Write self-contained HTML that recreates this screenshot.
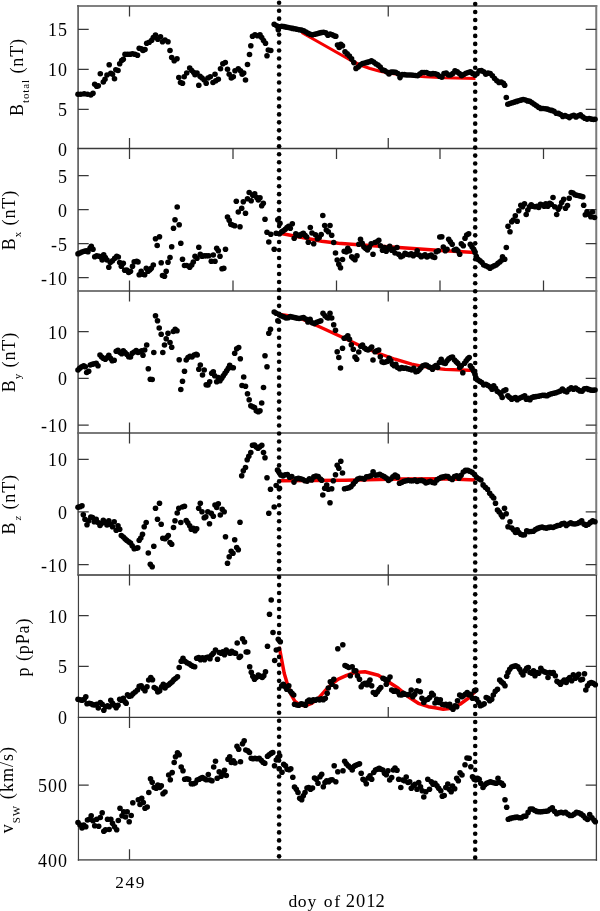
<!DOCTYPE html>
<html><head><meta charset="utf-8"><title>plot</title><style>html,body{margin:0;padding:0;background:#fff}svg text{font-family:"Liberation Serif",serif}</style></head><body>
<svg width="600" height="911" viewBox="0 0 600 911" style="display:block">
<rect width="600" height="911" fill="#fff"/>
<path d="M77.1 6H597.25" fill="none" stroke="#808080" stroke-width="2"/>
<path d="M77.3 291H597.25M77.3 433H597.25" fill="none" stroke="#7a7a7a" stroke-width="2"/>
<path d="M77.3 575H597.1" fill="none" stroke="#666" stroke-width="1.8"/>
<path d="M77.8 859.8H597.1" fill="none" stroke="#6e6e6e" stroke-width="1.8"/>
<path d="M78.1 5V575" fill="none" stroke="#606060" stroke-width="1.7"/>
<path d="M78.45 575V860.7" fill="none" stroke="#404040" stroke-width="1.2"/>
<path d="M596.25 5V575" fill="none" stroke="#7a7a7a" stroke-width="2"/>
<path d="M596.4 575V860.7" fill="none" stroke="#444" stroke-width="1.3"/>
<path d="M77.3 148.5H597.25M77.8 717.4H597" fill="none" stroke="#3a3a3a" stroke-width="1.3"/>
<path d="M78.1 29.4h10.6M596.3 29.4h-10.6M78.1 69.4h10.6M596.3 69.4h-10.6M78.1 109.3h10.6M596.3 109.3h-10.6M78.1 175.5h10.6M596.3 175.5h-10.6M78.1 209.5h10.6M596.3 209.5h-10.6M78.1 243.5h10.6M596.3 243.5h-10.6M78.1 277.5h10.6M596.3 277.5h-10.6M78.1 331.7h10.6M596.3 331.7h-10.6M78.1 378.3h10.6M596.3 378.3h-10.6M78.1 425h10.6M596.3 425h-10.6M78.1 459.3h10.6M596.3 459.3h-10.6M78.1 511.9h10.6M596.3 511.9h-10.6M78.1 564.6h10.6M596.3 564.6h-10.6M78.1 615.5h10.6M596.3 615.5h-10.6M78.1 666.25h10.6M596.3 666.25h-10.6M78.1 785h10.6M596.3 785h-10.6M129.5 6v10.5M388.25 6v10.5M129.5 148.5v-10.5M388.25 148.5v-10.5M129.5 148.5v10.5M233 148.5v10.5M336.5 148.5v10.5M440 148.5v10.5M543.5 148.5v10.5M129.5 291v-10.5M233 291v-10.5M336.5 291v-10.5M440 291v-10.5M543.5 291v-10.5M129.5 291v10.5M388.25 291v10.5M129.5 433v-10.5M388.25 433v-10.5M129.5 433v10.5M388.25 433v10.5M129.5 575v-10.5M388.25 575v-10.5M129.5 575v10.5M388.25 575v10.5M129.5 717.4v-10.5M388.25 717.4v-10.5M129.5 717.4v10.5M129.5 859.8v-10.5" fill="none" stroke="#383838" stroke-width="1.25"/>
<g font-family="'Liberation Serif',serif" font-size="18" fill="#000" text-anchor="end" letter-spacing="1">
<text x="67.9" y="36.2">15</text>
<text x="67.9" y="76.2">10</text>
<text x="67.9" y="116.2">5</text>
<text x="67.9" y="155.5">0</text>
<text x="67.9" y="182.5">5</text>
<text x="67.9" y="216.5">0</text>
<text x="67.9" y="250.5">-5</text>
<text x="67.9" y="284.5">-10</text>
<text x="67.9" y="338.7">10</text>
<text x="67.9" y="385.3">0</text>
<text x="67.9" y="432.0">-10</text>
<text x="67.9" y="466.3">10</text>
<text x="67.9" y="518.9">0</text>
<text x="67.9" y="571.5">-10</text>
<text x="67.9" y="622.5">10</text>
<text x="67.9" y="673.2">5</text>
<text x="67.9" y="724.0">0</text>
<text x="67.9" y="792.0">500</text>
<text x="67.9" y="866.5">400</text>
</g>
<g font-family="'Liberation Serif',serif" font-size="18" fill="#000" letter-spacing="0.9">
<text x="130.6" y="888" text-anchor="middle" font-size="17.3" letter-spacing="1.6">249</text>
<text x="288.5 297.8 307.5 316 323.8 334.2 341 345.7 356 366.3 375.6" y="906.7" font-size="17.6" letter-spacing="0">doy of <tspan font-size="18.5" dy="0.4">2012</tspan></text>
<text transform="translate(23 77) rotate(-90)" text-anchor="middle" letter-spacing="0.9">B<tspan font-size="11" dy="5.5">total</tspan><tspan dy="-5.5"> (nT)</tspan></text>
<text transform="translate(15.3 220) rotate(-90)" text-anchor="middle" letter-spacing="0.9">B<tspan font-size="11" dy="5.5">x</tspan><tspan dy="-5.5"> (nT)</tspan></text>
<text transform="translate(15.3 362) rotate(-90)" text-anchor="middle" letter-spacing="0.9">B<tspan font-size="11" dy="5.5">y</tspan><tspan dy="-5.5"> (nT)</tspan></text>
<text transform="translate(15.3 504.3) rotate(-90)" text-anchor="middle" letter-spacing="0.9">B<tspan font-size="11" dy="5.5" dx="1.5" font-style="italic">z</tspan><tspan dy="-5.5"> (nT)</tspan></text>
<text transform="translate(29.4 647) rotate(-90)" text-anchor="middle" letter-spacing="0.9">p (pPa)</text>
<text transform="translate(12.6 789.6) rotate(-90)" text-anchor="middle" letter-spacing="1.05">v<tspan font-size="11" dy="7">SW</tspan><tspan dy="-7"> (km/s)</tspan></text>
</g>
<path d="M301.7 32.5 L352 61 L360 65 L370 68.5 L380 71.3 L390 73.3 L405 75.3 L425 76.8 L445 77.8 L475.5 78.5" fill="none" stroke="#f40000" stroke-width="3.1" stroke-linejoin="round" stroke-linecap="butt"/>
<path d="M280 233.3 L305 238 L321.7 241.2 L338.3 243.3 L355 244.5 L395 247.2 L445 250.8 L475 252.5" fill="none" stroke="#f40000" stroke-width="3.5" stroke-linejoin="round" stroke-linecap="butt"/>
<path d="M280 314.5 L290 316 L303 319.5 L320 327 L345 338.5 L361.7 346.5 L378.3 353.3 L395 359.2 L411.7 364.2 L428.3 367.5 L445 369.3 L475.5 370.5" fill="none" stroke="#f40000" stroke-width="3.3" stroke-linejoin="round" stroke-linecap="butt"/>
<path d="M280 480.8 L345 480.2 L400 479 L445 478.7 L475.5 480" fill="none" stroke="#f40000" stroke-width="3.5" stroke-linejoin="round" stroke-linecap="butt"/>
<path d="M279.2 646.7 L281.7 660 L284.2 673.3 L286.7 681.7 L290.8 694 L295 701.5 L300 705 L305 705.8 L311.7 703.3 L318.3 698.3 L325 690.8 L331.7 684.2 L338.3 679.2 L346.7 675.3 L355 672.5 L365 671.7 L378.3 675.3 L388.3 681.7 L398.3 688.3 L408.3 696.7 L418.3 703.3 L428.3 706.7 L435 707.7 L443.3 709.2 L451.7 708.3 L460 704.2 L468.3 698.3 L476.7 690" fill="none" stroke="#f40000" stroke-width="3.5" stroke-linejoin="round" stroke-linecap="butt"/>
<g fill="#000">
<circle cx="78.0" cy="94.2" r="2.8"/>
<circle cx="80.8" cy="94.2" r="2.8"/>
<circle cx="84.2" cy="93.8" r="2.8"/>
<circle cx="87.5" cy="94.2" r="2.8"/>
<circle cx="90.8" cy="95.0" r="2.8"/>
<circle cx="93.0" cy="93.3" r="2.8"/>
<circle cx="94.7" cy="84.2" r="2.8"/>
<circle cx="96.7" cy="86.3" r="2.8"/>
<circle cx="98.3" cy="85.8" r="2.8"/>
<circle cx="100.3" cy="73.7" r="2.8"/>
<circle cx="103.3" cy="82.0" r="2.8"/>
<circle cx="105.0" cy="79.2" r="2.8"/>
<circle cx="107.0" cy="75.0" r="2.8"/>
<circle cx="109.2" cy="64.7" r="2.8"/>
<circle cx="110.8" cy="73.3" r="2.8"/>
<circle cx="112.5" cy="74.2" r="2.8"/>
<circle cx="114.5" cy="78.7" r="2.8"/>
<circle cx="115.8" cy="69.7" r="2.8"/>
<circle cx="118.0" cy="70.5" r="2.8"/>
<circle cx="119.7" cy="63.8" r="2.8"/>
<circle cx="121.7" cy="60.5" r="2.8"/>
<circle cx="123.3" cy="59.2" r="2.8"/>
<circle cx="125.0" cy="54.2" r="2.8"/>
<circle cx="127.5" cy="54.2" r="2.8"/>
<circle cx="130.0" cy="54.2" r="2.8"/>
<circle cx="132.5" cy="53.8" r="2.8"/>
<circle cx="135.0" cy="54.2" r="2.8"/>
<circle cx="137.5" cy="55.3" r="2.8"/>
<circle cx="139.2" cy="48.3" r="2.8"/>
<circle cx="141.3" cy="48.7" r="2.8"/>
<circle cx="143.0" cy="50.5" r="2.8"/>
<circle cx="145.0" cy="49.5" r="2.8"/>
<circle cx="146.7" cy="43.3" r="2.8"/>
<circle cx="149.2" cy="42.2" r="2.8"/>
<circle cx="151.7" cy="40.3" r="2.8"/>
<circle cx="153.3" cy="37.5" r="2.8"/>
<circle cx="155.5" cy="35.0" r="2.8"/>
<circle cx="157.8" cy="39.2" r="2.8"/>
<circle cx="160.5" cy="36.7" r="2.8"/>
<circle cx="162.5" cy="41.7" r="2.8"/>
<circle cx="165.0" cy="40.0" r="2.8"/>
<circle cx="168.0" cy="41.7" r="2.8"/>
<circle cx="170.0" cy="50.5" r="2.8"/>
<circle cx="171.7" cy="57.5" r="2.8"/>
<circle cx="174.2" cy="60.8" r="2.8"/>
<circle cx="177.0" cy="58.8" r="2.8"/>
<circle cx="178.8" cy="77.5" r="2.8"/>
<circle cx="180.5" cy="82.5" r="2.8"/>
<circle cx="182.5" cy="83.3" r="2.8"/>
<circle cx="184.2" cy="76.7" r="2.8"/>
<circle cx="186.7" cy="73.0" r="2.8"/>
<circle cx="189.7" cy="68.0" r="2.8"/>
<circle cx="191.7" cy="70.5" r="2.8"/>
<circle cx="193.7" cy="72.5" r="2.8"/>
<circle cx="195.0" cy="74.7" r="2.8"/>
<circle cx="197.0" cy="73.0" r="2.8"/>
<circle cx="198.8" cy="85.3" r="2.8"/>
<circle cx="200.0" cy="76.3" r="2.8"/>
<circle cx="202.0" cy="78.0" r="2.8"/>
<circle cx="204.2" cy="80.0" r="2.8"/>
<circle cx="206.2" cy="83.3" r="2.8"/>
<circle cx="208.0" cy="78.0" r="2.8"/>
<circle cx="210.3" cy="76.7" r="2.8"/>
<circle cx="213.0" cy="82.5" r="2.8"/>
<circle cx="215.0" cy="74.2" r="2.8"/>
<circle cx="215.8" cy="80.8" r="2.8"/>
<circle cx="218.3" cy="79.2" r="2.8"/>
<circle cx="220.5" cy="68.7" r="2.8"/>
<circle cx="222.8" cy="63.8" r="2.8"/>
<circle cx="225.3" cy="62.5" r="2.8"/>
<circle cx="227.5" cy="69.2" r="2.8"/>
<circle cx="229.2" cy="74.2" r="2.8"/>
<circle cx="231.3" cy="78.0" r="2.8"/>
<circle cx="233.3" cy="76.7" r="2.8"/>
<circle cx="235.0" cy="70.8" r="2.8"/>
<circle cx="238.3" cy="68.7" r="2.8"/>
<circle cx="240.5" cy="70.8" r="2.8"/>
<circle cx="242.2" cy="74.2" r="2.8"/>
<circle cx="243.7" cy="73.0" r="2.8"/>
<circle cx="245.5" cy="80.0" r="2.8"/>
<circle cx="247.5" cy="64.5" r="2.8"/>
<circle cx="249.5" cy="54.5" r="2.8"/>
<circle cx="250.8" cy="45.8" r="2.8"/>
<circle cx="252.5" cy="36.2" r="2.8"/>
<circle cx="255.0" cy="34.7" r="2.8"/>
<circle cx="257.5" cy="35.8" r="2.8"/>
<circle cx="260.0" cy="34.7" r="2.8"/>
<circle cx="261.7" cy="37.5" r="2.8"/>
<circle cx="263.5" cy="40.5" r="2.8"/>
<circle cx="265.5" cy="43.3" r="2.8"/>
<circle cx="267.0" cy="55.8" r="2.8"/>
<circle cx="268.3" cy="50.0" r="2.8"/>
<circle cx="270.8" cy="50.5" r="2.8"/>
<circle cx="274.2" cy="24.2" r="2.8"/>
<circle cx="276.7" cy="25.8" r="2.8"/>
<circle cx="278.3" cy="29.7" r="2.8"/>
<circle cx="279.5" cy="26.7" r="2.8"/>
<circle cx="337.5" cy="45.0" r="2.8"/>
<circle cx="339.2" cy="47.5" r="2.8"/>
<circle cx="340.8" cy="44.2" r="2.8"/>
<circle cx="342.5" cy="45.8" r="2.8"/>
<circle cx="506.3" cy="97.5" r="2.8"/>
<circle cx="281.7" cy="26.2" r="2.8"/>
<circle cx="283.9" cy="26.6" r="2.8"/>
<circle cx="286.1" cy="27.1" r="2.8"/>
<circle cx="288.3" cy="27.5" r="2.8"/>
<circle cx="290.5" cy="28.0" r="2.8"/>
<circle cx="292.7" cy="28.4" r="2.8"/>
<circle cx="294.9" cy="28.8" r="2.8"/>
<circle cx="297.1" cy="29.3" r="2.8"/>
<circle cx="299.3" cy="29.7" r="2.8"/>
<circle cx="301.5" cy="30.1" r="2.8"/>
<circle cx="303.7" cy="30.7" r="2.8"/>
<circle cx="305.9" cy="32.0" r="2.8"/>
<circle cx="308.1" cy="33.2" r="2.8"/>
<circle cx="310.3" cy="34.3" r="2.8"/>
<circle cx="312.5" cy="34.8" r="2.8"/>
<circle cx="314.7" cy="34.2" r="2.8"/>
<circle cx="316.9" cy="33.7" r="2.8"/>
<circle cx="319.1" cy="33.1" r="2.8"/>
<circle cx="321.3" cy="32.6" r="2.8"/>
<circle cx="323.5" cy="32.2" r="2.8"/>
<circle cx="325.7" cy="32.8" r="2.8"/>
<circle cx="327.9" cy="35.3" r="2.8"/>
<circle cx="330.1" cy="34.0" r="2.8"/>
<circle cx="332.3" cy="34.8" r="2.8"/>
<circle cx="334.5" cy="36.0" r="2.8"/>
<circle cx="335.8" cy="36.3" r="2.8"/>
<circle cx="345.0" cy="51.7" r="2.8"/>
<circle cx="347.2" cy="53.9" r="2.8"/>
<circle cx="349.4" cy="56.1" r="2.8"/>
<circle cx="351.6" cy="58.9" r="2.8"/>
<circle cx="353.8" cy="62.6" r="2.8"/>
<circle cx="356.0" cy="68.4" r="2.8"/>
<circle cx="358.2" cy="67.0" r="2.8"/>
<circle cx="360.4" cy="64.8" r="2.8"/>
<circle cx="362.6" cy="63.5" r="2.8"/>
<circle cx="364.8" cy="63.0" r="2.8"/>
<circle cx="367.0" cy="62.4" r="2.8"/>
<circle cx="369.2" cy="61.7" r="2.8"/>
<circle cx="371.4" cy="60.9" r="2.8"/>
<circle cx="373.6" cy="62.1" r="2.8"/>
<circle cx="375.8" cy="63.7" r="2.8"/>
<circle cx="378.0" cy="65.1" r="2.8"/>
<circle cx="380.2" cy="67.1" r="2.8"/>
<circle cx="382.4" cy="69.9" r="2.8"/>
<circle cx="384.6" cy="70.5" r="2.8"/>
<circle cx="386.8" cy="72.0" r="2.8"/>
<circle cx="389.0" cy="74.0" r="2.8"/>
<circle cx="391.2" cy="72.1" r="2.8"/>
<circle cx="393.4" cy="72.1" r="2.8"/>
<circle cx="395.6" cy="72.3" r="2.8"/>
<circle cx="397.8" cy="73.6" r="2.8"/>
<circle cx="400.0" cy="77.6" r="2.8"/>
<circle cx="402.2" cy="74.6" r="2.8"/>
<circle cx="404.4" cy="74.6" r="2.8"/>
<circle cx="406.6" cy="75.0" r="2.8"/>
<circle cx="408.8" cy="75.0" r="2.8"/>
<circle cx="411.0" cy="75.0" r="2.8"/>
<circle cx="413.2" cy="75.2" r="2.8"/>
<circle cx="415.4" cy="75.5" r="2.8"/>
<circle cx="417.6" cy="75.7" r="2.8"/>
<circle cx="419.8" cy="74.0" r="2.8"/>
<circle cx="422.0" cy="72.5" r="2.8"/>
<circle cx="424.2" cy="72.5" r="2.8"/>
<circle cx="426.4" cy="72.5" r="2.8"/>
<circle cx="428.6" cy="73.5" r="2.8"/>
<circle cx="430.8" cy="74.0" r="2.8"/>
<circle cx="433.0" cy="73.6" r="2.8"/>
<circle cx="435.2" cy="73.7" r="2.8"/>
<circle cx="437.4" cy="74.6" r="2.8"/>
<circle cx="439.6" cy="76.3" r="2.8"/>
<circle cx="441.8" cy="77.2" r="2.8"/>
<circle cx="444.0" cy="73.6" r="2.8"/>
<circle cx="446.2" cy="73.1" r="2.8"/>
<circle cx="448.4" cy="75.0" r="2.8"/>
<circle cx="450.6" cy="75.0" r="2.8"/>
<circle cx="452.8" cy="73.6" r="2.8"/>
<circle cx="455.0" cy="70.8" r="2.8"/>
<circle cx="457.2" cy="71.9" r="2.8"/>
<circle cx="459.4" cy="73.6" r="2.8"/>
<circle cx="461.6" cy="75.7" r="2.8"/>
<circle cx="463.8" cy="74.5" r="2.8"/>
<circle cx="466.0" cy="73.2" r="2.8"/>
<circle cx="468.2" cy="72.5" r="2.8"/>
<circle cx="470.4" cy="71.8" r="2.8"/>
<circle cx="472.6" cy="73.4" r="2.8"/>
<circle cx="474.8" cy="74.8" r="2.8"/>
<circle cx="477.0" cy="73.7" r="2.8"/>
<circle cx="479.2" cy="70.8" r="2.8"/>
<circle cx="481.4" cy="70.6" r="2.8"/>
<circle cx="483.6" cy="71.7" r="2.8"/>
<circle cx="485.8" cy="74.2" r="2.8"/>
<circle cx="488.0" cy="73.1" r="2.8"/>
<circle cx="490.2" cy="73.5" r="2.8"/>
<circle cx="492.4" cy="75.7" r="2.8"/>
<circle cx="494.6" cy="78.5" r="2.8"/>
<circle cx="496.8" cy="80.7" r="2.8"/>
<circle cx="499.0" cy="82.4" r="2.8"/>
<circle cx="501.2" cy="82.0" r="2.8"/>
<circle cx="503.4" cy="83.2" r="2.8"/>
<circle cx="504.7" cy="85.3" r="2.8"/>
<circle cx="507.8" cy="104.2" r="2.8"/>
<circle cx="510.0" cy="103.5" r="2.8"/>
<circle cx="512.2" cy="102.8" r="2.8"/>
<circle cx="514.4" cy="102.1" r="2.8"/>
<circle cx="516.6" cy="101.4" r="2.8"/>
<circle cx="518.8" cy="100.7" r="2.8"/>
<circle cx="521.0" cy="100.1" r="2.8"/>
<circle cx="523.2" cy="99.5" r="2.8"/>
<circle cx="525.4" cy="100.0" r="2.8"/>
<circle cx="527.6" cy="100.9" r="2.8"/>
<circle cx="529.8" cy="101.3" r="2.8"/>
<circle cx="532.0" cy="102.7" r="2.8"/>
<circle cx="534.2" cy="104.2" r="2.8"/>
<circle cx="536.4" cy="105.7" r="2.8"/>
<circle cx="538.6" cy="107.3" r="2.8"/>
<circle cx="540.8" cy="108.4" r="2.8"/>
<circle cx="543.0" cy="108.5" r="2.8"/>
<circle cx="545.2" cy="108.7" r="2.8"/>
<circle cx="547.4" cy="109.1" r="2.8"/>
<circle cx="549.6" cy="110.0" r="2.8"/>
<circle cx="551.8" cy="110.4" r="2.8"/>
<circle cx="554.0" cy="111.2" r="2.8"/>
<circle cx="556.2" cy="113.3" r="2.8"/>
<circle cx="558.4" cy="113.4" r="2.8"/>
<circle cx="560.6" cy="114.5" r="2.8"/>
<circle cx="562.8" cy="116.4" r="2.8"/>
<circle cx="565.0" cy="115.5" r="2.8"/>
<circle cx="567.2" cy="116.5" r="2.8"/>
<circle cx="569.4" cy="117.6" r="2.8"/>
<circle cx="571.6" cy="116.0" r="2.8"/>
<circle cx="573.8" cy="115.4" r="2.8"/>
<circle cx="576.0" cy="116.9" r="2.8"/>
<circle cx="578.2" cy="115.8" r="2.8"/>
<circle cx="580.4" cy="114.8" r="2.8"/>
<circle cx="582.6" cy="116.8" r="2.8"/>
<circle cx="584.8" cy="118.3" r="2.8"/>
<circle cx="587.0" cy="119.1" r="2.8"/>
<circle cx="589.2" cy="118.5" r="2.8"/>
<circle cx="591.4" cy="119.1" r="2.8"/>
<circle cx="593.6" cy="119.5" r="2.8"/>
<circle cx="595.0" cy="119.2" r="2.8"/>
<circle cx="78.0" cy="253.8" r="2.8"/>
<circle cx="80.0" cy="253.0" r="2.8"/>
<circle cx="82.0" cy="252.0" r="2.8"/>
<circle cx="84.2" cy="251.2" r="2.8"/>
<circle cx="86.3" cy="250.8" r="2.8"/>
<circle cx="88.0" cy="251.7" r="2.8"/>
<circle cx="90.0" cy="248.3" r="2.8"/>
<circle cx="91.3" cy="246.3" r="2.8"/>
<circle cx="93.0" cy="249.2" r="2.8"/>
<circle cx="94.7" cy="256.7" r="2.8"/>
<circle cx="96.7" cy="255.8" r="2.8"/>
<circle cx="99.2" cy="256.2" r="2.8"/>
<circle cx="101.3" cy="257.5" r="2.8"/>
<circle cx="102.2" cy="260.0" r="2.8"/>
<circle cx="103.7" cy="254.7" r="2.8"/>
<circle cx="105.3" cy="257.5" r="2.8"/>
<circle cx="107.0" cy="260.0" r="2.8"/>
<circle cx="108.8" cy="267.2" r="2.8"/>
<circle cx="110.3" cy="262.5" r="2.8"/>
<circle cx="112.5" cy="260.8" r="2.8"/>
<circle cx="114.7" cy="258.3" r="2.8"/>
<circle cx="116.7" cy="256.3" r="2.8"/>
<circle cx="118.3" cy="257.0" r="2.8"/>
<circle cx="119.7" cy="262.5" r="2.8"/>
<circle cx="121.3" cy="266.3" r="2.8"/>
<circle cx="123.3" cy="263.3" r="2.8"/>
<circle cx="124.7" cy="270.3" r="2.8"/>
<circle cx="126.7" cy="270.0" r="2.8"/>
<circle cx="128.7" cy="272.5" r="2.8"/>
<circle cx="130.5" cy="271.3" r="2.8"/>
<circle cx="132.5" cy="266.3" r="2.8"/>
<circle cx="134.2" cy="261.7" r="2.8"/>
<circle cx="136.7" cy="261.3" r="2.8"/>
<circle cx="138.0" cy="262.0" r="2.8"/>
<circle cx="139.2" cy="274.7" r="2.8"/>
<circle cx="141.2" cy="271.3" r="2.8"/>
<circle cx="142.8" cy="274.2" r="2.8"/>
<circle cx="144.7" cy="274.7" r="2.8"/>
<circle cx="146.3" cy="268.3" r="2.8"/>
<circle cx="148.0" cy="271.3" r="2.8"/>
<circle cx="149.7" cy="270.0" r="2.8"/>
<circle cx="151.3" cy="268.3" r="2.8"/>
<circle cx="153.3" cy="265.0" r="2.8"/>
<circle cx="155.5" cy="238.8" r="2.8"/>
<circle cx="157.2" cy="245.5" r="2.8"/>
<circle cx="159.5" cy="236.7" r="2.8"/>
<circle cx="161.2" cy="262.8" r="2.8"/>
<circle cx="162.5" cy="275.5" r="2.8"/>
<circle cx="164.5" cy="276.3" r="2.8"/>
<circle cx="166.2" cy="271.2" r="2.8"/>
<circle cx="168.0" cy="262.2" r="2.8"/>
<circle cx="170.0" cy="257.5" r="2.8"/>
<circle cx="171.7" cy="246.7" r="2.8"/>
<circle cx="173.5" cy="228.3" r="2.8"/>
<circle cx="175.0" cy="219.7" r="2.8"/>
<circle cx="177.2" cy="207.0" r="2.8"/>
<circle cx="179.2" cy="224.7" r="2.8"/>
<circle cx="180.8" cy="243.3" r="2.8"/>
<circle cx="182.5" cy="259.2" r="2.8"/>
<circle cx="184.5" cy="265.5" r="2.8"/>
<circle cx="186.7" cy="265.5" r="2.8"/>
<circle cx="189.7" cy="267.2" r="2.8"/>
<circle cx="191.7" cy="265.0" r="2.8"/>
<circle cx="193.3" cy="262.0" r="2.8"/>
<circle cx="195.0" cy="256.2" r="2.8"/>
<circle cx="197.0" cy="258.3" r="2.8"/>
<circle cx="198.8" cy="247.2" r="2.8"/>
<circle cx="200.3" cy="254.2" r="2.8"/>
<circle cx="202.0" cy="256.3" r="2.8"/>
<circle cx="204.2" cy="255.8" r="2.8"/>
<circle cx="206.3" cy="255.8" r="2.8"/>
<circle cx="208.7" cy="255.8" r="2.8"/>
<circle cx="211.3" cy="261.3" r="2.8"/>
<circle cx="213.3" cy="255.0" r="2.8"/>
<circle cx="215.0" cy="261.3" r="2.8"/>
<circle cx="216.7" cy="248.3" r="2.8"/>
<circle cx="218.3" cy="250.8" r="2.8"/>
<circle cx="220.0" cy="256.2" r="2.8"/>
<circle cx="222.0" cy="268.8" r="2.8"/>
<circle cx="223.8" cy="268.3" r="2.8"/>
<circle cx="225.5" cy="249.2" r="2.8"/>
<circle cx="227.5" cy="217.0" r="2.8"/>
<circle cx="229.2" cy="220.3" r="2.8"/>
<circle cx="230.8" cy="224.2" r="2.8"/>
<circle cx="232.5" cy="225.0" r="2.8"/>
<circle cx="234.7" cy="225.8" r="2.8"/>
<circle cx="236.3" cy="201.2" r="2.8"/>
<circle cx="238.3" cy="212.0" r="2.8"/>
<circle cx="240.0" cy="226.7" r="2.8"/>
<circle cx="241.7" cy="208.3" r="2.8"/>
<circle cx="243.3" cy="201.7" r="2.8"/>
<circle cx="245.5" cy="213.3" r="2.8"/>
<circle cx="247.5" cy="198.7" r="2.8"/>
<circle cx="249.2" cy="192.5" r="2.8"/>
<circle cx="251.2" cy="200.8" r="2.8"/>
<circle cx="252.8" cy="195.3" r="2.8"/>
<circle cx="254.7" cy="193.7" r="2.8"/>
<circle cx="256.7" cy="197.5" r="2.8"/>
<circle cx="258.3" cy="200.0" r="2.8"/>
<circle cx="260.0" cy="197.8" r="2.8"/>
<circle cx="261.7" cy="205.8" r="2.8"/>
<circle cx="263.3" cy="203.3" r="2.8"/>
<circle cx="265.0" cy="219.2" r="2.8"/>
<circle cx="267.0" cy="232.2" r="2.8"/>
<circle cx="268.8" cy="242.0" r="2.8"/>
<circle cx="270.8" cy="234.2" r="2.8"/>
<circle cx="274.2" cy="249.2" r="2.8"/>
<circle cx="276.2" cy="233.3" r="2.8"/>
<circle cx="277.8" cy="219.7" r="2.8"/>
<circle cx="279.5" cy="233.7" r="2.8"/>
<circle cx="280.0" cy="223.3" r="2.8"/>
<circle cx="281.7" cy="231.7" r="2.8"/>
<circle cx="283.3" cy="230.8" r="2.8"/>
<circle cx="285.3" cy="229.2" r="2.8"/>
<circle cx="287.0" cy="227.5" r="2.8"/>
<circle cx="288.7" cy="226.3" r="2.8"/>
<circle cx="290.3" cy="228.3" r="2.8"/>
<circle cx="292.3" cy="223.7" r="2.8"/>
<circle cx="294.2" cy="238.3" r="2.8"/>
<circle cx="295.8" cy="233.7" r="2.8"/>
<circle cx="297.5" cy="235.0" r="2.8"/>
<circle cx="299.7" cy="235.8" r="2.8"/>
<circle cx="301.3" cy="234.2" r="2.8"/>
<circle cx="303.3" cy="233.3" r="2.8"/>
<circle cx="305.0" cy="235.3" r="2.8"/>
<circle cx="306.7" cy="237.0" r="2.8"/>
<circle cx="308.3" cy="242.2" r="2.8"/>
<circle cx="310.3" cy="227.5" r="2.8"/>
<circle cx="312.0" cy="233.0" r="2.8"/>
<circle cx="313.7" cy="243.8" r="2.8"/>
<circle cx="315.5" cy="234.7" r="2.8"/>
<circle cx="317.5" cy="238.8" r="2.8"/>
<circle cx="319.2" cy="237.5" r="2.8"/>
<circle cx="321.2" cy="234.5" r="2.8"/>
<circle cx="322.8" cy="215.5" r="2.8"/>
<circle cx="324.7" cy="225.5" r="2.8"/>
<circle cx="326.3" cy="230.0" r="2.8"/>
<circle cx="328.3" cy="231.7" r="2.8"/>
<circle cx="330.0" cy="225.5" r="2.8"/>
<circle cx="331.7" cy="235.3" r="2.8"/>
<circle cx="333.7" cy="242.5" r="2.8"/>
<circle cx="335.5" cy="253.0" r="2.8"/>
<circle cx="337.2" cy="260.0" r="2.8"/>
<circle cx="338.8" cy="264.2" r="2.8"/>
<circle cx="340.5" cy="267.8" r="2.8"/>
<circle cx="342.5" cy="259.5" r="2.8"/>
<circle cx="344.2" cy="251.3" r="2.8"/>
<circle cx="346.2" cy="252.0" r="2.8"/>
<circle cx="347.8" cy="248.3" r="2.8"/>
<circle cx="349.5" cy="250.8" r="2.8"/>
<circle cx="351.7" cy="256.7" r="2.8"/>
<circle cx="353.3" cy="258.3" r="2.8"/>
<circle cx="355.0" cy="259.7" r="2.8"/>
<circle cx="357.0" cy="255.8" r="2.8"/>
<circle cx="358.8" cy="244.2" r="2.8"/>
<circle cx="360.5" cy="239.2" r="2.8"/>
<circle cx="362.2" cy="243.3" r="2.8"/>
<circle cx="363.8" cy="246.7" r="2.8"/>
<circle cx="365.5" cy="248.3" r="2.8"/>
<circle cx="367.5" cy="250.0" r="2.8"/>
<circle cx="369.2" cy="247.5" r="2.8"/>
<circle cx="371.2" cy="243.7" r="2.8"/>
<circle cx="373.0" cy="254.2" r="2.8"/>
<circle cx="375.0" cy="242.5" r="2.8"/>
<circle cx="377.0" cy="241.7" r="2.8"/>
<circle cx="378.8" cy="240.3" r="2.8"/>
<circle cx="380.5" cy="245.8" r="2.8"/>
<circle cx="382.5" cy="250.3" r="2.8"/>
<circle cx="384.5" cy="247.5" r="2.8"/>
<circle cx="386.2" cy="251.3" r="2.8"/>
<circle cx="388.0" cy="248.3" r="2.8"/>
<circle cx="389.7" cy="246.3" r="2.8"/>
<circle cx="391.7" cy="250.3" r="2.8"/>
<circle cx="393.3" cy="249.2" r="2.8"/>
<circle cx="395.0" cy="253.0" r="2.8"/>
<circle cx="397.0" cy="247.5" r="2.8"/>
<circle cx="398.7" cy="254.2" r="2.8"/>
<circle cx="400.8" cy="256.7" r="2.8"/>
<circle cx="402.8" cy="255.8" r="2.8"/>
<circle cx="405.0" cy="253.3" r="2.8"/>
<circle cx="407.0" cy="254.2" r="2.8"/>
<circle cx="409.2" cy="254.7" r="2.8"/>
<circle cx="411.2" cy="253.7" r="2.8"/>
<circle cx="413.3" cy="255.8" r="2.8"/>
<circle cx="415.3" cy="254.2" r="2.8"/>
<circle cx="417.2" cy="250.8" r="2.8"/>
<circle cx="419.2" cy="255.0" r="2.8"/>
<circle cx="421.2" cy="256.7" r="2.8"/>
<circle cx="423.3" cy="255.8" r="2.8"/>
<circle cx="425.0" cy="254.7" r="2.8"/>
<circle cx="427.0" cy="257.0" r="2.8"/>
<circle cx="429.2" cy="255.8" r="2.8"/>
<circle cx="431.2" cy="255.0" r="2.8"/>
<circle cx="432.8" cy="256.7" r="2.8"/>
<circle cx="434.7" cy="257.5" r="2.8"/>
<circle cx="436.3" cy="251.7" r="2.8"/>
<circle cx="438.3" cy="250.8" r="2.8"/>
<circle cx="439.8" cy="237.0" r="2.8"/>
<circle cx="441.8" cy="236.7" r="2.8"/>
<circle cx="443.3" cy="247.0" r="2.8"/>
<circle cx="445.3" cy="250.8" r="2.8"/>
<circle cx="447.0" cy="249.2" r="2.8"/>
<circle cx="448.7" cy="239.2" r="2.8"/>
<circle cx="450.3" cy="241.7" r="2.8"/>
<circle cx="452.2" cy="244.2" r="2.8"/>
<circle cx="454.2" cy="250.0" r="2.8"/>
<circle cx="456.2" cy="249.2" r="2.8"/>
<circle cx="457.8" cy="250.8" r="2.8"/>
<circle cx="459.7" cy="254.2" r="2.8"/>
<circle cx="461.3" cy="243.7" r="2.8"/>
<circle cx="463.3" cy="245.8" r="2.8"/>
<circle cx="465.0" cy="238.3" r="2.8"/>
<circle cx="466.7" cy="235.0" r="2.8"/>
<circle cx="468.7" cy="233.7" r="2.8"/>
<circle cx="470.3" cy="244.2" r="2.8"/>
<circle cx="472.0" cy="246.7" r="2.8"/>
<circle cx="473.7" cy="249.2" r="2.8"/>
<circle cx="475.0" cy="252.5" r="2.8"/>
<circle cx="476.3" cy="256.3" r="2.8"/>
<circle cx="478.0" cy="259.2" r="2.8"/>
<circle cx="480.0" cy="260.8" r="2.8"/>
<circle cx="482.0" cy="262.5" r="2.8"/>
<circle cx="483.7" cy="265.0" r="2.8"/>
<circle cx="485.8" cy="265.8" r="2.8"/>
<circle cx="488.0" cy="266.7" r="2.8"/>
<circle cx="490.0" cy="268.3" r="2.8"/>
<circle cx="492.2" cy="266.7" r="2.8"/>
<circle cx="494.2" cy="265.8" r="2.8"/>
<circle cx="496.2" cy="265.0" r="2.8"/>
<circle cx="498.0" cy="263.3" r="2.8"/>
<circle cx="500.0" cy="261.7" r="2.8"/>
<circle cx="502.0" cy="260.0" r="2.8"/>
<circle cx="502.5" cy="256.7" r="2.8"/>
<circle cx="504.7" cy="259.2" r="2.8"/>
<circle cx="506.3" cy="247.5" r="2.8"/>
<circle cx="508.0" cy="226.3" r="2.8"/>
<circle cx="510.0" cy="231.7" r="2.8"/>
<circle cx="511.7" cy="221.7" r="2.8"/>
<circle cx="513.3" cy="220.0" r="2.8"/>
<circle cx="515.3" cy="215.8" r="2.8"/>
<circle cx="517.2" cy="221.3" r="2.8"/>
<circle cx="518.8" cy="210.8" r="2.8"/>
<circle cx="520.8" cy="205.3" r="2.8"/>
<circle cx="522.5" cy="206.7" r="2.8"/>
<circle cx="524.5" cy="203.7" r="2.8"/>
<circle cx="526.2" cy="214.5" r="2.8"/>
<circle cx="527.8" cy="210.0" r="2.8"/>
<circle cx="529.5" cy="206.7" r="2.8"/>
<circle cx="531.2" cy="204.7" r="2.8"/>
<circle cx="533.0" cy="206.2" r="2.8"/>
<circle cx="535.0" cy="206.7" r="2.8"/>
<circle cx="537.0" cy="206.3" r="2.8"/>
<circle cx="538.7" cy="207.5" r="2.8"/>
<circle cx="540.5" cy="204.2" r="2.8"/>
<circle cx="542.5" cy="205.0" r="2.8"/>
<circle cx="544.2" cy="206.2" r="2.8"/>
<circle cx="545.8" cy="203.7" r="2.8"/>
<circle cx="547.8" cy="206.2" r="2.8"/>
<circle cx="549.7" cy="203.3" r="2.8"/>
<circle cx="551.3" cy="204.2" r="2.8"/>
<circle cx="553.0" cy="197.5" r="2.8"/>
<circle cx="554.7" cy="206.7" r="2.8"/>
<circle cx="556.7" cy="214.5" r="2.8"/>
<circle cx="558.3" cy="209.2" r="2.8"/>
<circle cx="560.0" cy="206.7" r="2.8"/>
<circle cx="561.7" cy="202.5" r="2.8"/>
<circle cx="563.7" cy="199.2" r="2.8"/>
<circle cx="565.5" cy="208.3" r="2.8"/>
<circle cx="567.5" cy="205.5" r="2.8"/>
<circle cx="569.2" cy="198.3" r="2.8"/>
<circle cx="571.2" cy="192.5" r="2.8"/>
<circle cx="573.0" cy="193.0" r="2.8"/>
<circle cx="575.0" cy="194.7" r="2.8"/>
<circle cx="577.0" cy="195.3" r="2.8"/>
<circle cx="579.2" cy="195.8" r="2.8"/>
<circle cx="581.2" cy="196.3" r="2.8"/>
<circle cx="582.8" cy="196.7" r="2.8"/>
<circle cx="583.7" cy="205.3" r="2.8"/>
<circle cx="585.3" cy="214.7" r="2.8"/>
<circle cx="587.0" cy="211.7" r="2.8"/>
<circle cx="588.8" cy="214.2" r="2.8"/>
<circle cx="590.8" cy="216.7" r="2.8"/>
<circle cx="592.5" cy="212.0" r="2.8"/>
<circle cx="594.5" cy="217.5" r="2.8"/>
<circle cx="78.0" cy="370.0" r="2.8"/>
<circle cx="79.7" cy="368.3" r="2.8"/>
<circle cx="81.7" cy="366.7" r="2.8"/>
<circle cx="83.7" cy="365.8" r="2.8"/>
<circle cx="85.3" cy="366.7" r="2.8"/>
<circle cx="86.7" cy="372.5" r="2.8"/>
<circle cx="88.7" cy="371.3" r="2.8"/>
<circle cx="90.3" cy="365.0" r="2.8"/>
<circle cx="92.2" cy="364.2" r="2.8"/>
<circle cx="94.2" cy="363.8" r="2.8"/>
<circle cx="96.2" cy="363.3" r="2.8"/>
<circle cx="98.0" cy="365.8" r="2.8"/>
<circle cx="100.0" cy="355.0" r="2.8"/>
<circle cx="101.7" cy="357.0" r="2.8"/>
<circle cx="103.3" cy="358.3" r="2.8"/>
<circle cx="105.3" cy="359.2" r="2.8"/>
<circle cx="107.2" cy="357.5" r="2.8"/>
<circle cx="108.8" cy="355.3" r="2.8"/>
<circle cx="110.5" cy="358.3" r="2.8"/>
<circle cx="112.2" cy="360.8" r="2.8"/>
<circle cx="114.2" cy="360.3" r="2.8"/>
<circle cx="116.2" cy="351.3" r="2.8"/>
<circle cx="118.0" cy="350.3" r="2.8"/>
<circle cx="120.0" cy="352.5" r="2.8"/>
<circle cx="121.7" cy="353.7" r="2.8"/>
<circle cx="123.3" cy="350.8" r="2.8"/>
<circle cx="125.0" cy="352.5" r="2.8"/>
<circle cx="126.7" cy="354.2" r="2.8"/>
<circle cx="128.7" cy="356.7" r="2.8"/>
<circle cx="130.5" cy="357.0" r="2.8"/>
<circle cx="132.2" cy="353.3" r="2.8"/>
<circle cx="134.2" cy="352.0" r="2.8"/>
<circle cx="136.2" cy="350.5" r="2.8"/>
<circle cx="138.0" cy="352.5" r="2.8"/>
<circle cx="140.0" cy="351.7" r="2.8"/>
<circle cx="141.7" cy="350.8" r="2.8"/>
<circle cx="143.0" cy="355.3" r="2.8"/>
<circle cx="144.7" cy="350.0" r="2.8"/>
<circle cx="146.7" cy="345.0" r="2.8"/>
<circle cx="148.3" cy="368.8" r="2.8"/>
<circle cx="150.3" cy="379.2" r="2.8"/>
<circle cx="152.2" cy="379.5" r="2.8"/>
<circle cx="153.8" cy="352.5" r="2.8"/>
<circle cx="155.5" cy="315.8" r="2.8"/>
<circle cx="157.5" cy="320.8" r="2.8"/>
<circle cx="159.2" cy="328.0" r="2.8"/>
<circle cx="161.2" cy="334.2" r="2.8"/>
<circle cx="162.8" cy="352.5" r="2.8"/>
<circle cx="164.5" cy="345.0" r="2.8"/>
<circle cx="166.2" cy="338.7" r="2.8"/>
<circle cx="168.0" cy="333.3" r="2.8"/>
<circle cx="170.0" cy="342.5" r="2.8"/>
<circle cx="171.7" cy="347.3" r="2.8"/>
<circle cx="173.3" cy="331.5" r="2.8"/>
<circle cx="175.2" cy="329.2" r="2.8"/>
<circle cx="177.0" cy="330.8" r="2.8"/>
<circle cx="179.2" cy="359.7" r="2.8"/>
<circle cx="180.8" cy="389.5" r="2.8"/>
<circle cx="182.5" cy="381.3" r="2.8"/>
<circle cx="184.5" cy="371.3" r="2.8"/>
<circle cx="186.2" cy="360.0" r="2.8"/>
<circle cx="188.0" cy="357.5" r="2.8"/>
<circle cx="190.0" cy="356.3" r="2.8"/>
<circle cx="192.0" cy="357.0" r="2.8"/>
<circle cx="194.2" cy="355.0" r="2.8"/>
<circle cx="196.2" cy="354.2" r="2.8"/>
<circle cx="197.2" cy="355.0" r="2.8"/>
<circle cx="198.8" cy="369.2" r="2.8"/>
<circle cx="200.3" cy="365.0" r="2.8"/>
<circle cx="202.5" cy="375.0" r="2.8"/>
<circle cx="204.2" cy="370.0" r="2.8"/>
<circle cx="206.2" cy="384.7" r="2.8"/>
<circle cx="208.0" cy="385.0" r="2.8"/>
<circle cx="209.7" cy="381.7" r="2.8"/>
<circle cx="211.7" cy="373.3" r="2.8"/>
<circle cx="213.3" cy="371.7" r="2.8"/>
<circle cx="214.7" cy="375.8" r="2.8"/>
<circle cx="216.7" cy="381.7" r="2.8"/>
<circle cx="218.3" cy="377.5" r="2.8"/>
<circle cx="220.0" cy="380.8" r="2.8"/>
<circle cx="221.7" cy="378.3" r="2.8"/>
<circle cx="223.3" cy="375.8" r="2.8"/>
<circle cx="225.0" cy="373.3" r="2.8"/>
<circle cx="226.7" cy="370.8" r="2.8"/>
<circle cx="228.3" cy="368.3" r="2.8"/>
<circle cx="229.7" cy="365.3" r="2.8"/>
<circle cx="231.3" cy="367.5" r="2.8"/>
<circle cx="233.3" cy="367.8" r="2.8"/>
<circle cx="234.7" cy="353.3" r="2.8"/>
<circle cx="236.7" cy="348.8" r="2.8"/>
<circle cx="238.7" cy="347.5" r="2.8"/>
<circle cx="240.3" cy="358.7" r="2.8"/>
<circle cx="242.0" cy="385.5" r="2.8"/>
<circle cx="243.7" cy="377.0" r="2.8"/>
<circle cx="245.5" cy="386.2" r="2.8"/>
<circle cx="247.5" cy="393.7" r="2.8"/>
<circle cx="249.2" cy="399.7" r="2.8"/>
<circle cx="250.8" cy="405.8" r="2.8"/>
<circle cx="252.8" cy="406.7" r="2.8"/>
<circle cx="254.5" cy="407.5" r="2.8"/>
<circle cx="256.3" cy="410.8" r="2.8"/>
<circle cx="258.3" cy="411.7" r="2.8"/>
<circle cx="260.0" cy="410.8" r="2.8"/>
<circle cx="261.7" cy="403.0" r="2.8"/>
<circle cx="263.5" cy="387.5" r="2.8"/>
<circle cx="265.0" cy="355.8" r="2.8"/>
<circle cx="267.0" cy="366.7" r="2.8"/>
<circle cx="268.8" cy="333.3" r="2.8"/>
<circle cx="270.5" cy="329.2" r="2.8"/>
<circle cx="274.2" cy="312.0" r="2.8"/>
<circle cx="276.2" cy="313.3" r="2.8"/>
<circle cx="277.8" cy="320.8" r="2.8"/>
<circle cx="279.5" cy="315.0" r="2.8"/>
<circle cx="323.0" cy="313.3" r="2.8"/>
<circle cx="325.0" cy="315.8" r="2.8"/>
<circle cx="327.0" cy="317.5" r="2.8"/>
<circle cx="328.3" cy="318.0" r="2.8"/>
<circle cx="330.0" cy="313.3" r="2.8"/>
<circle cx="331.7" cy="318.0" r="2.8"/>
<circle cx="333.7" cy="324.7" r="2.8"/>
<circle cx="335.5" cy="330.3" r="2.8"/>
<circle cx="337.2" cy="351.7" r="2.8"/>
<circle cx="338.8" cy="357.5" r="2.8"/>
<circle cx="340.5" cy="368.0" r="2.8"/>
<circle cx="342.5" cy="348.3" r="2.8"/>
<circle cx="344.2" cy="338.3" r="2.8"/>
<circle cx="346.2" cy="337.5" r="2.8"/>
<circle cx="347.8" cy="335.8" r="2.8"/>
<circle cx="349.5" cy="339.2" r="2.8"/>
<circle cx="351.3" cy="344.7" r="2.8"/>
<circle cx="353.3" cy="349.2" r="2.8"/>
<circle cx="355.0" cy="357.0" r="2.8"/>
<circle cx="356.7" cy="359.2" r="2.8"/>
<circle cx="358.8" cy="352.0" r="2.8"/>
<circle cx="360.8" cy="346.3" r="2.8"/>
<circle cx="362.5" cy="345.0" r="2.8"/>
<circle cx="364.5" cy="348.0" r="2.8"/>
<circle cx="366.2" cy="349.2" r="2.8"/>
<circle cx="368.0" cy="350.0" r="2.8"/>
<circle cx="370.0" cy="348.7" r="2.8"/>
<circle cx="371.7" cy="347.0" r="2.8"/>
<circle cx="373.0" cy="360.0" r="2.8"/>
<circle cx="375.0" cy="351.7" r="2.8"/>
<circle cx="376.7" cy="350.8" r="2.8"/>
<circle cx="378.7" cy="350.0" r="2.8"/>
<circle cx="380.3" cy="356.7" r="2.8"/>
<circle cx="382.0" cy="361.7" r="2.8"/>
<circle cx="383.7" cy="362.5" r="2.8"/>
<circle cx="385.8" cy="362.0" r="2.8"/>
<circle cx="387.5" cy="361.3" r="2.8"/>
<circle cx="389.2" cy="358.3" r="2.8"/>
<circle cx="390.8" cy="360.8" r="2.8"/>
<circle cx="392.5" cy="364.2" r="2.8"/>
<circle cx="394.2" cy="365.8" r="2.8"/>
<circle cx="395.8" cy="364.2" r="2.8"/>
<circle cx="397.5" cy="367.5" r="2.8"/>
<circle cx="399.7" cy="368.7" r="2.8"/>
<circle cx="401.7" cy="367.5" r="2.8"/>
<circle cx="403.7" cy="368.3" r="2.8"/>
<circle cx="405.8" cy="368.0" r="2.8"/>
<circle cx="407.8" cy="368.7" r="2.8"/>
<circle cx="410.0" cy="369.2" r="2.8"/>
<circle cx="411.7" cy="370.0" r="2.8"/>
<circle cx="413.7" cy="368.3" r="2.8"/>
<circle cx="415.8" cy="371.7" r="2.8"/>
<circle cx="417.5" cy="371.3" r="2.8"/>
<circle cx="419.2" cy="369.7" r="2.8"/>
<circle cx="420.8" cy="368.0" r="2.8"/>
<circle cx="422.8" cy="365.8" r="2.8"/>
<circle cx="425.0" cy="365.0" r="2.8"/>
<circle cx="426.7" cy="365.3" r="2.8"/>
<circle cx="428.7" cy="366.7" r="2.8"/>
<circle cx="430.5" cy="367.5" r="2.8"/>
<circle cx="432.5" cy="369.2" r="2.8"/>
<circle cx="434.2" cy="366.7" r="2.8"/>
<circle cx="435.8" cy="365.5" r="2.8"/>
<circle cx="437.6" cy="367.5" r="2.8"/>
<circle cx="439.4" cy="362.5" r="2.8"/>
<circle cx="441.2" cy="359.4" r="2.8"/>
<circle cx="443.3" cy="362.7" r="2.8"/>
<circle cx="445.3" cy="363.5" r="2.8"/>
<circle cx="447.0" cy="360.8" r="2.8"/>
<circle cx="448.8" cy="358.7" r="2.8"/>
<circle cx="450.8" cy="357.5" r="2.8"/>
<circle cx="452.5" cy="357.0" r="2.8"/>
<circle cx="454.5" cy="360.0" r="2.8"/>
<circle cx="456.2" cy="361.7" r="2.8"/>
<circle cx="457.8" cy="363.3" r="2.8"/>
<circle cx="459.7" cy="367.5" r="2.8"/>
<circle cx="461.3" cy="365.8" r="2.8"/>
<circle cx="462.8" cy="372.8" r="2.8"/>
<circle cx="464.5" cy="363.3" r="2.8"/>
<circle cx="466.2" cy="360.8" r="2.8"/>
<circle cx="467.8" cy="358.7" r="2.8"/>
<circle cx="469.2" cy="357.5" r="2.8"/>
<circle cx="470.3" cy="365.8" r="2.8"/>
<circle cx="472.0" cy="368.3" r="2.8"/>
<circle cx="473.7" cy="371.3" r="2.8"/>
<circle cx="475.0" cy="374.2" r="2.8"/>
<circle cx="475.8" cy="377.5" r="2.8"/>
<circle cx="477.5" cy="380.0" r="2.8"/>
<circle cx="479.7" cy="381.2" r="2.8"/>
<circle cx="481.7" cy="382.5" r="2.8"/>
<circle cx="483.7" cy="385.0" r="2.8"/>
<circle cx="485.8" cy="384.2" r="2.8"/>
<circle cx="487.8" cy="385.3" r="2.8"/>
<circle cx="490.0" cy="386.7" r="2.8"/>
<circle cx="492.0" cy="389.2" r="2.8"/>
<circle cx="493.7" cy="385.8" r="2.8"/>
<circle cx="495.5" cy="388.3" r="2.8"/>
<circle cx="497.2" cy="391.3" r="2.8"/>
<circle cx="499.2" cy="392.5" r="2.8"/>
<circle cx="500.8" cy="394.2" r="2.8"/>
<circle cx="502.2" cy="397.5" r="2.8"/>
<circle cx="503.8" cy="390.8" r="2.8"/>
<circle cx="505.8" cy="389.7" r="2.8"/>
<circle cx="507.8" cy="395.8" r="2.8"/>
<circle cx="509.7" cy="397.5" r="2.8"/>
<circle cx="511.7" cy="399.2" r="2.8"/>
<circle cx="513.7" cy="398.3" r="2.8"/>
<circle cx="515.5" cy="397.5" r="2.8"/>
<circle cx="517.2" cy="399.7" r="2.8"/>
<circle cx="519.2" cy="398.3" r="2.8"/>
<circle cx="521.2" cy="397.5" r="2.8"/>
<circle cx="522.8" cy="396.7" r="2.8"/>
<circle cx="524.7" cy="395.8" r="2.8"/>
<circle cx="526.3" cy="399.2" r="2.8"/>
<circle cx="528.3" cy="398.3" r="2.8"/>
<circle cx="530.0" cy="399.7" r="2.8"/>
<circle cx="532.0" cy="397.5" r="2.8"/>
<circle cx="281.5" cy="316.0" r="2.8"/>
<circle cx="283.7" cy="316.7" r="2.8"/>
<circle cx="285.9" cy="318.0" r="2.8"/>
<circle cx="288.1" cy="317.7" r="2.8"/>
<circle cx="290.3" cy="316.6" r="2.8"/>
<circle cx="292.5" cy="317.1" r="2.8"/>
<circle cx="294.7" cy="317.6" r="2.8"/>
<circle cx="296.9" cy="318.1" r="2.8"/>
<circle cx="299.1" cy="318.5" r="2.8"/>
<circle cx="301.3" cy="318.0" r="2.8"/>
<circle cx="303.5" cy="317.6" r="2.8"/>
<circle cx="305.7" cy="319.0" r="2.8"/>
<circle cx="307.9" cy="321.9" r="2.8"/>
<circle cx="310.1" cy="319.3" r="2.8"/>
<circle cx="312.3" cy="322.8" r="2.8"/>
<circle cx="314.5" cy="323.6" r="2.8"/>
<circle cx="316.7" cy="322.2" r="2.8"/>
<circle cx="318.9" cy="321.5" r="2.8"/>
<circle cx="320.8" cy="320.8" r="2.8"/>
<circle cx="533.8" cy="396.9" r="2.8"/>
<circle cx="536.0" cy="396.6" r="2.8"/>
<circle cx="538.2" cy="396.3" r="2.8"/>
<circle cx="540.4" cy="395.8" r="2.8"/>
<circle cx="542.6" cy="395.2" r="2.8"/>
<circle cx="544.8" cy="395.4" r="2.8"/>
<circle cx="547.0" cy="395.7" r="2.8"/>
<circle cx="549.2" cy="394.6" r="2.8"/>
<circle cx="551.4" cy="393.8" r="2.8"/>
<circle cx="553.6" cy="393.2" r="2.8"/>
<circle cx="555.8" cy="392.7" r="2.8"/>
<circle cx="558.0" cy="392.0" r="2.8"/>
<circle cx="560.2" cy="391.1" r="2.8"/>
<circle cx="562.4" cy="389.1" r="2.8"/>
<circle cx="564.6" cy="390.9" r="2.8"/>
<circle cx="566.8" cy="392.0" r="2.8"/>
<circle cx="569.0" cy="389.3" r="2.8"/>
<circle cx="571.2" cy="387.8" r="2.8"/>
<circle cx="573.4" cy="389.2" r="2.8"/>
<circle cx="575.6" cy="388.1" r="2.8"/>
<circle cx="577.8" cy="389.6" r="2.8"/>
<circle cx="580.0" cy="390.9" r="2.8"/>
<circle cx="582.2" cy="391.1" r="2.8"/>
<circle cx="584.4" cy="388.7" r="2.8"/>
<circle cx="586.6" cy="388.6" r="2.8"/>
<circle cx="588.8" cy="389.4" r="2.8"/>
<circle cx="591.0" cy="390.1" r="2.8"/>
<circle cx="593.2" cy="390.2" r="2.8"/>
<circle cx="595.0" cy="390.0" r="2.8"/>
<circle cx="78.0" cy="507.2" r="2.8"/>
<circle cx="80.0" cy="506.7" r="2.8"/>
<circle cx="82.0" cy="505.8" r="2.8"/>
<circle cx="83.3" cy="514.7" r="2.8"/>
<circle cx="85.0" cy="519.2" r="2.8"/>
<circle cx="87.0" cy="524.7" r="2.8"/>
<circle cx="88.7" cy="520.8" r="2.8"/>
<circle cx="90.8" cy="517.0" r="2.8"/>
<circle cx="92.5" cy="517.5" r="2.8"/>
<circle cx="94.2" cy="521.7" r="2.8"/>
<circle cx="96.2" cy="519.2" r="2.8"/>
<circle cx="98.0" cy="522.5" r="2.8"/>
<circle cx="100.0" cy="525.5" r="2.8"/>
<circle cx="101.7" cy="523.3" r="2.8"/>
<circle cx="103.3" cy="520.3" r="2.8"/>
<circle cx="105.3" cy="522.5" r="2.8"/>
<circle cx="107.0" cy="525.0" r="2.8"/>
<circle cx="108.8" cy="520.8" r="2.8"/>
<circle cx="110.5" cy="524.2" r="2.8"/>
<circle cx="112.5" cy="526.7" r="2.8"/>
<circle cx="114.2" cy="521.7" r="2.8"/>
<circle cx="116.2" cy="530.3" r="2.8"/>
<circle cx="118.0" cy="525.8" r="2.8"/>
<circle cx="119.7" cy="529.2" r="2.8"/>
<circle cx="121.3" cy="535.5" r="2.8"/>
<circle cx="123.3" cy="537.0" r="2.8"/>
<circle cx="125.0" cy="538.7" r="2.8"/>
<circle cx="126.7" cy="540.3" r="2.8"/>
<circle cx="128.7" cy="541.7" r="2.8"/>
<circle cx="130.5" cy="543.0" r="2.8"/>
<circle cx="132.2" cy="545.8" r="2.8"/>
<circle cx="134.2" cy="548.7" r="2.8"/>
<circle cx="136.2" cy="548.3" r="2.8"/>
<circle cx="137.8" cy="547.8" r="2.8"/>
<circle cx="139.2" cy="540.3" r="2.8"/>
<circle cx="140.8" cy="538.0" r="2.8"/>
<circle cx="142.5" cy="534.2" r="2.8"/>
<circle cx="144.2" cy="526.7" r="2.8"/>
<circle cx="146.2" cy="522.5" r="2.8"/>
<circle cx="148.3" cy="553.0" r="2.8"/>
<circle cx="150.3" cy="564.2" r="2.8"/>
<circle cx="152.2" cy="566.7" r="2.8"/>
<circle cx="153.8" cy="546.2" r="2.8"/>
<circle cx="155.5" cy="508.3" r="2.8"/>
<circle cx="157.5" cy="519.2" r="2.8"/>
<circle cx="159.5" cy="503.3" r="2.8"/>
<circle cx="161.2" cy="524.2" r="2.8"/>
<circle cx="162.8" cy="538.3" r="2.8"/>
<circle cx="165.0" cy="538.8" r="2.8"/>
<circle cx="166.7" cy="537.5" r="2.8"/>
<circle cx="168.3" cy="535.5" r="2.8"/>
<circle cx="170.0" cy="542.5" r="2.8"/>
<circle cx="171.7" cy="544.2" r="2.8"/>
<circle cx="173.5" cy="527.5" r="2.8"/>
<circle cx="175.0" cy="520.8" r="2.8"/>
<circle cx="177.2" cy="513.0" r="2.8"/>
<circle cx="178.8" cy="508.3" r="2.8"/>
<circle cx="180.8" cy="522.5" r="2.8"/>
<circle cx="182.5" cy="507.0" r="2.8"/>
<circle cx="184.5" cy="506.3" r="2.8"/>
<circle cx="186.2" cy="520.5" r="2.8"/>
<circle cx="187.8" cy="522.8" r="2.8"/>
<circle cx="189.7" cy="525.8" r="2.8"/>
<circle cx="191.3" cy="529.2" r="2.8"/>
<circle cx="193.3" cy="528.3" r="2.8"/>
<circle cx="195.0" cy="530.8" r="2.8"/>
<circle cx="196.7" cy="528.7" r="2.8"/>
<circle cx="198.7" cy="508.3" r="2.8"/>
<circle cx="200.3" cy="503.3" r="2.8"/>
<circle cx="202.0" cy="511.7" r="2.8"/>
<circle cx="204.2" cy="517.8" r="2.8"/>
<circle cx="205.8" cy="516.7" r="2.8"/>
<circle cx="207.8" cy="511.7" r="2.8"/>
<circle cx="209.5" cy="523.8" r="2.8"/>
<circle cx="211.3" cy="513.3" r="2.8"/>
<circle cx="213.3" cy="516.2" r="2.8"/>
<circle cx="215.0" cy="505.0" r="2.8"/>
<circle cx="216.7" cy="507.5" r="2.8"/>
<circle cx="218.3" cy="503.8" r="2.8"/>
<circle cx="220.3" cy="515.0" r="2.8"/>
<circle cx="222.2" cy="509.2" r="2.8"/>
<circle cx="224.2" cy="511.7" r="2.8"/>
<circle cx="225.5" cy="536.7" r="2.8"/>
<circle cx="227.5" cy="563.3" r="2.8"/>
<circle cx="229.2" cy="556.7" r="2.8"/>
<circle cx="231.2" cy="551.3" r="2.8"/>
<circle cx="233.0" cy="553.3" r="2.8"/>
<circle cx="234.7" cy="539.7" r="2.8"/>
<circle cx="236.7" cy="547.5" r="2.8"/>
<circle cx="238.3" cy="549.7" r="2.8"/>
<circle cx="240.0" cy="522.2" r="2.8"/>
<circle cx="241.7" cy="475.8" r="2.8"/>
<circle cx="243.3" cy="470.8" r="2.8"/>
<circle cx="245.5" cy="467.5" r="2.8"/>
<circle cx="247.2" cy="459.7" r="2.8"/>
<circle cx="248.8" cy="456.3" r="2.8"/>
<circle cx="250.8" cy="452.5" r="2.8"/>
<circle cx="252.5" cy="445.3" r="2.8"/>
<circle cx="254.5" cy="445.0" r="2.8"/>
<circle cx="256.3" cy="447.0" r="2.8"/>
<circle cx="258.0" cy="448.3" r="2.8"/>
<circle cx="259.8" cy="446.7" r="2.8"/>
<circle cx="261.8" cy="445.3" r="2.8"/>
<circle cx="263.5" cy="452.5" r="2.8"/>
<circle cx="265.0" cy="457.8" r="2.8"/>
<circle cx="267.0" cy="477.8" r="2.8"/>
<circle cx="268.8" cy="513.3" r="2.8"/>
<circle cx="270.5" cy="489.2" r="2.8"/>
<circle cx="274.2" cy="507.0" r="2.8"/>
<circle cx="276.2" cy="485.5" r="2.8"/>
<circle cx="277.5" cy="470.0" r="2.8"/>
<circle cx="279.5" cy="488.3" r="2.8"/>
<circle cx="322.8" cy="495.0" r="2.8"/>
<circle cx="324.7" cy="488.3" r="2.8"/>
<circle cx="326.7" cy="485.0" r="2.8"/>
<circle cx="328.3" cy="489.2" r="2.8"/>
<circle cx="330.0" cy="502.8" r="2.8"/>
<circle cx="331.7" cy="488.8" r="2.8"/>
<circle cx="333.3" cy="480.8" r="2.8"/>
<circle cx="335.5" cy="474.7" r="2.8"/>
<circle cx="337.2" cy="465.3" r="2.8"/>
<circle cx="338.8" cy="468.3" r="2.8"/>
<circle cx="340.8" cy="461.2" r="2.8"/>
<circle cx="342.5" cy="473.0" r="2.8"/>
<circle cx="397.5" cy="477.3" r="2.8"/>
<circle cx="495.5" cy="503.3" r="2.8"/>
<circle cx="497.5" cy="510.0" r="2.8"/>
<circle cx="499.2" cy="512.0" r="2.8"/>
<circle cx="501.2" cy="514.7" r="2.8"/>
<circle cx="502.5" cy="516.7" r="2.8"/>
<circle cx="504.5" cy="508.3" r="2.8"/>
<circle cx="506.2" cy="513.7" r="2.8"/>
<circle cx="508.0" cy="526.7" r="2.8"/>
<circle cx="510.0" cy="521.7" r="2.8"/>
<circle cx="511.7" cy="528.0" r="2.8"/>
<circle cx="513.7" cy="530.0" r="2.8"/>
<circle cx="515.5" cy="532.5" r="2.8"/>
<circle cx="517.2" cy="529.7" r="2.8"/>
<circle cx="518.8" cy="532.5" r="2.8"/>
<circle cx="520.8" cy="534.2" r="2.8"/>
<circle cx="522.5" cy="535.0" r="2.8"/>
<circle cx="278.6" cy="471.5" r="2.8"/>
<circle cx="280.8" cy="474.9" r="2.8"/>
<circle cx="283.0" cy="476.0" r="2.8"/>
<circle cx="285.2" cy="474.8" r="2.8"/>
<circle cx="287.4" cy="474.5" r="2.8"/>
<circle cx="289.6" cy="477.3" r="2.8"/>
<circle cx="291.8" cy="476.6" r="2.8"/>
<circle cx="294.0" cy="482.1" r="2.8"/>
<circle cx="296.2" cy="478.7" r="2.8"/>
<circle cx="298.4" cy="478.4" r="2.8"/>
<circle cx="300.6" cy="478.8" r="2.8"/>
<circle cx="302.8" cy="479.5" r="2.8"/>
<circle cx="305.0" cy="480.7" r="2.8"/>
<circle cx="307.2" cy="481.1" r="2.8"/>
<circle cx="309.4" cy="478.8" r="2.8"/>
<circle cx="311.6" cy="479.9" r="2.8"/>
<circle cx="313.8" cy="476.9" r="2.8"/>
<circle cx="316.0" cy="476.0" r="2.8"/>
<circle cx="318.2" cy="476.6" r="2.8"/>
<circle cx="320.4" cy="479.1" r="2.8"/>
<circle cx="321.7" cy="480.3" r="2.8"/>
<circle cx="344.5" cy="488.7" r="2.8"/>
<circle cx="346.7" cy="488.3" r="2.8"/>
<circle cx="348.9" cy="487.7" r="2.8"/>
<circle cx="351.1" cy="486.6" r="2.8"/>
<circle cx="353.3" cy="483.9" r="2.8"/>
<circle cx="355.5" cy="481.2" r="2.8"/>
<circle cx="357.7" cy="479.1" r="2.8"/>
<circle cx="359.9" cy="478.3" r="2.8"/>
<circle cx="362.1" cy="478.5" r="2.8"/>
<circle cx="364.3" cy="479.1" r="2.8"/>
<circle cx="366.5" cy="476.8" r="2.8"/>
<circle cx="368.7" cy="476.6" r="2.8"/>
<circle cx="370.9" cy="475.8" r="2.8"/>
<circle cx="373.1" cy="471.8" r="2.8"/>
<circle cx="375.3" cy="475.1" r="2.8"/>
<circle cx="377.5" cy="475.0" r="2.8"/>
<circle cx="379.7" cy="474.4" r="2.8"/>
<circle cx="381.9" cy="475.5" r="2.8"/>
<circle cx="384.1" cy="476.6" r="2.8"/>
<circle cx="386.3" cy="478.1" r="2.8"/>
<circle cx="388.5" cy="480.5" r="2.8"/>
<circle cx="390.7" cy="479.0" r="2.8"/>
<circle cx="392.9" cy="476.7" r="2.8"/>
<circle cx="395.1" cy="475.0" r="2.8"/>
<circle cx="397.3" cy="476.4" r="2.8"/>
<circle cx="399.5" cy="483.2" r="2.8"/>
<circle cx="401.7" cy="482.5" r="2.8"/>
<circle cx="403.9" cy="481.3" r="2.8"/>
<circle cx="406.1" cy="480.7" r="2.8"/>
<circle cx="408.3" cy="480.2" r="2.8"/>
<circle cx="410.5" cy="480.7" r="2.8"/>
<circle cx="412.7" cy="480.7" r="2.8"/>
<circle cx="414.9" cy="480.1" r="2.8"/>
<circle cx="417.1" cy="481.5" r="2.8"/>
<circle cx="419.3" cy="480.5" r="2.8"/>
<circle cx="421.5" cy="480.4" r="2.8"/>
<circle cx="423.7" cy="481.1" r="2.8"/>
<circle cx="425.9" cy="483.0" r="2.8"/>
<circle cx="428.1" cy="482.1" r="2.8"/>
<circle cx="430.3" cy="481.3" r="2.8"/>
<circle cx="432.5" cy="482.5" r="2.8"/>
<circle cx="434.7" cy="483.0" r="2.8"/>
<circle cx="436.9" cy="479.9" r="2.8"/>
<circle cx="439.1" cy="478.5" r="2.8"/>
<circle cx="441.3" cy="477.4" r="2.8"/>
<circle cx="443.5" cy="476.9" r="2.8"/>
<circle cx="445.7" cy="476.2" r="2.8"/>
<circle cx="447.9" cy="476.6" r="2.8"/>
<circle cx="450.1" cy="478.5" r="2.8"/>
<circle cx="452.3" cy="479.4" r="2.8"/>
<circle cx="454.5" cy="476.5" r="2.8"/>
<circle cx="456.7" cy="475.8" r="2.8"/>
<circle cx="458.9" cy="478.3" r="2.8"/>
<circle cx="461.1" cy="475.3" r="2.8"/>
<circle cx="463.3" cy="472.0" r="2.8"/>
<circle cx="465.5" cy="470.4" r="2.8"/>
<circle cx="467.7" cy="470.4" r="2.8"/>
<circle cx="469.9" cy="471.3" r="2.8"/>
<circle cx="472.1" cy="472.3" r="2.8"/>
<circle cx="474.3" cy="474.3" r="2.8"/>
<circle cx="476.5" cy="477.2" r="2.8"/>
<circle cx="478.7" cy="478.7" r="2.8"/>
<circle cx="480.9" cy="480.0" r="2.8"/>
<circle cx="483.1" cy="484.9" r="2.8"/>
<circle cx="485.3" cy="487.3" r="2.8"/>
<circle cx="487.5" cy="489.2" r="2.8"/>
<circle cx="489.7" cy="493.3" r="2.8"/>
<circle cx="491.9" cy="496.0" r="2.8"/>
<circle cx="493.7" cy="498.0" r="2.8"/>
<circle cx="524.5" cy="534.7" r="2.8"/>
<circle cx="526.7" cy="530.7" r="2.8"/>
<circle cx="528.9" cy="531.6" r="2.8"/>
<circle cx="531.1" cy="531.5" r="2.8"/>
<circle cx="533.3" cy="531.3" r="2.8"/>
<circle cx="535.5" cy="529.6" r="2.8"/>
<circle cx="537.7" cy="528.4" r="2.8"/>
<circle cx="539.9" cy="527.6" r="2.8"/>
<circle cx="542.1" cy="527.1" r="2.8"/>
<circle cx="544.3" cy="527.8" r="2.8"/>
<circle cx="546.5" cy="528.1" r="2.8"/>
<circle cx="548.7" cy="527.4" r="2.8"/>
<circle cx="550.9" cy="527.1" r="2.8"/>
<circle cx="553.1" cy="527.5" r="2.8"/>
<circle cx="555.3" cy="526.5" r="2.8"/>
<circle cx="557.5" cy="525.6" r="2.8"/>
<circle cx="559.7" cy="525.2" r="2.8"/>
<circle cx="561.9" cy="523.9" r="2.8"/>
<circle cx="564.1" cy="523.3" r="2.8"/>
<circle cx="566.3" cy="525.4" r="2.8"/>
<circle cx="568.5" cy="524.0" r="2.8"/>
<circle cx="570.7" cy="522.8" r="2.8"/>
<circle cx="572.9" cy="523.7" r="2.8"/>
<circle cx="575.1" cy="524.0" r="2.8"/>
<circle cx="577.3" cy="523.5" r="2.8"/>
<circle cx="579.5" cy="522.4" r="2.8"/>
<circle cx="581.7" cy="520.8" r="2.8"/>
<circle cx="583.9" cy="524.1" r="2.8"/>
<circle cx="586.1" cy="525.3" r="2.8"/>
<circle cx="588.3" cy="524.2" r="2.8"/>
<circle cx="590.5" cy="522.4" r="2.8"/>
<circle cx="592.7" cy="520.9" r="2.8"/>
<circle cx="594.9" cy="521.7" r="2.8"/>
<circle cx="78.0" cy="699.2" r="2.8"/>
<circle cx="80.0" cy="699.7" r="2.8"/>
<circle cx="82.0" cy="700.3" r="2.8"/>
<circle cx="84.2" cy="699.2" r="2.8"/>
<circle cx="85.8" cy="696.7" r="2.8"/>
<circle cx="87.0" cy="703.7" r="2.8"/>
<circle cx="89.2" cy="703.3" r="2.8"/>
<circle cx="91.2" cy="703.8" r="2.8"/>
<circle cx="93.0" cy="704.7" r="2.8"/>
<circle cx="95.0" cy="705.0" r="2.8"/>
<circle cx="96.7" cy="704.2" r="2.8"/>
<circle cx="98.3" cy="708.0" r="2.8"/>
<circle cx="100.3" cy="702.5" r="2.8"/>
<circle cx="102.2" cy="704.2" r="2.8"/>
<circle cx="103.8" cy="710.3" r="2.8"/>
<circle cx="105.5" cy="706.7" r="2.8"/>
<circle cx="107.5" cy="705.8" r="2.8"/>
<circle cx="109.2" cy="706.7" r="2.8"/>
<circle cx="110.8" cy="700.3" r="2.8"/>
<circle cx="112.5" cy="703.3" r="2.8"/>
<circle cx="114.2" cy="705.3" r="2.8"/>
<circle cx="116.2" cy="707.8" r="2.8"/>
<circle cx="118.0" cy="705.3" r="2.8"/>
<circle cx="119.7" cy="699.2" r="2.8"/>
<circle cx="121.3" cy="700.3" r="2.8"/>
<circle cx="123.3" cy="698.3" r="2.8"/>
<circle cx="125.0" cy="701.7" r="2.8"/>
<circle cx="126.2" cy="703.3" r="2.8"/>
<circle cx="127.5" cy="694.7" r="2.8"/>
<circle cx="129.2" cy="696.3" r="2.8"/>
<circle cx="131.2" cy="695.8" r="2.8"/>
<circle cx="133.0" cy="693.8" r="2.8"/>
<circle cx="135.2" cy="692.0" r="2.8"/>
<circle cx="137.5" cy="690.0" r="2.8"/>
<circle cx="139.2" cy="686.3" r="2.8"/>
<circle cx="141.2" cy="685.8" r="2.8"/>
<circle cx="143.0" cy="688.3" r="2.8"/>
<circle cx="145.0" cy="690.8" r="2.8"/>
<circle cx="147.0" cy="686.7" r="2.8"/>
<circle cx="148.7" cy="680.0" r="2.8"/>
<circle cx="150.8" cy="677.5" r="2.8"/>
<circle cx="152.5" cy="679.7" r="2.8"/>
<circle cx="154.2" cy="687.5" r="2.8"/>
<circle cx="156.2" cy="688.7" r="2.8"/>
<circle cx="157.8" cy="692.0" r="2.8"/>
<circle cx="159.7" cy="690.8" r="2.8"/>
<circle cx="161.7" cy="686.7" r="2.8"/>
<circle cx="163.3" cy="684.2" r="2.8"/>
<circle cx="165.0" cy="688.0" r="2.8"/>
<circle cx="166.7" cy="685.8" r="2.8"/>
<circle cx="168.7" cy="684.7" r="2.8"/>
<circle cx="170.3" cy="683.3" r="2.8"/>
<circle cx="172.2" cy="681.7" r="2.8"/>
<circle cx="173.8" cy="679.7" r="2.8"/>
<circle cx="175.5" cy="678.5" r="2.8"/>
<circle cx="177.5" cy="676.7" r="2.8"/>
<circle cx="179.2" cy="667.5" r="2.8"/>
<circle cx="181.2" cy="661.2" r="2.8"/>
<circle cx="183.0" cy="658.3" r="2.8"/>
<circle cx="185.0" cy="661.3" r="2.8"/>
<circle cx="187.0" cy="662.8" r="2.8"/>
<circle cx="189.2" cy="663.8" r="2.8"/>
<circle cx="191.2" cy="665.3" r="2.8"/>
<circle cx="193.0" cy="666.2" r="2.8"/>
<circle cx="194.7" cy="666.7" r="2.8"/>
<circle cx="196.7" cy="658.3" r="2.8"/>
<circle cx="198.7" cy="657.5" r="2.8"/>
<circle cx="200.5" cy="659.7" r="2.8"/>
<circle cx="202.5" cy="657.8" r="2.8"/>
<circle cx="204.5" cy="659.7" r="2.8"/>
<circle cx="206.3" cy="657.5" r="2.8"/>
<circle cx="208.3" cy="657.0" r="2.8"/>
<circle cx="210.0" cy="658.7" r="2.8"/>
<circle cx="211.7" cy="655.0" r="2.8"/>
<circle cx="213.3" cy="653.3" r="2.8"/>
<circle cx="215.5" cy="650.0" r="2.8"/>
<circle cx="217.5" cy="659.2" r="2.8"/>
<circle cx="219.2" cy="652.5" r="2.8"/>
<circle cx="221.2" cy="653.3" r="2.8"/>
<circle cx="222.8" cy="651.7" r="2.8"/>
<circle cx="224.5" cy="654.7" r="2.8"/>
<circle cx="226.2" cy="650.0" r="2.8"/>
<circle cx="228.0" cy="652.0" r="2.8"/>
<circle cx="230.0" cy="653.3" r="2.8"/>
<circle cx="231.7" cy="651.3" r="2.8"/>
<circle cx="233.7" cy="652.8" r="2.8"/>
<circle cx="235.5" cy="653.3" r="2.8"/>
<circle cx="237.2" cy="643.0" r="2.8"/>
<circle cx="239.2" cy="657.5" r="2.8"/>
<circle cx="240.5" cy="656.3" r="2.8"/>
<circle cx="242.5" cy="638.7" r="2.8"/>
<circle cx="244.5" cy="642.0" r="2.8"/>
<circle cx="246.2" cy="652.0" r="2.8"/>
<circle cx="247.8" cy="652.0" r="2.8"/>
<circle cx="249.7" cy="666.7" r="2.8"/>
<circle cx="251.3" cy="672.2" r="2.8"/>
<circle cx="252.8" cy="676.3" r="2.8"/>
<circle cx="254.5" cy="679.2" r="2.8"/>
<circle cx="256.3" cy="677.5" r="2.8"/>
<circle cx="258.3" cy="675.0" r="2.8"/>
<circle cx="260.3" cy="676.3" r="2.8"/>
<circle cx="262.2" cy="677.5" r="2.8"/>
<circle cx="263.8" cy="675.8" r="2.8"/>
<circle cx="265.5" cy="671.7" r="2.8"/>
<circle cx="267.5" cy="646.3" r="2.8"/>
<circle cx="269.5" cy="614.2" r="2.8"/>
<circle cx="271.2" cy="600.0" r="2.8"/>
<circle cx="273.0" cy="632.5" r="2.8"/>
<circle cx="274.7" cy="660.5" r="2.8"/>
<circle cx="276.3" cy="650.0" r="2.8"/>
<circle cx="278.3" cy="639.2" r="2.8"/>
<circle cx="280.3" cy="641.7" r="2.8"/>
<circle cx="281.7" cy="685.8" r="2.8"/>
<circle cx="283.3" cy="684.2" r="2.8"/>
<circle cx="285.3" cy="686.7" r="2.8"/>
<circle cx="286.7" cy="689.2" r="2.8"/>
<circle cx="288.8" cy="685.8" r="2.8"/>
<circle cx="290.3" cy="691.3" r="2.8"/>
<circle cx="292.0" cy="693.3" r="2.8"/>
<circle cx="293.7" cy="695.0" r="2.8"/>
<circle cx="294.5" cy="704.2" r="2.8"/>
<circle cx="296.7" cy="705.0" r="2.8"/>
<circle cx="298.8" cy="705.3" r="2.8"/>
<circle cx="301.2" cy="703.7" r="2.8"/>
<circle cx="303.3" cy="704.2" r="2.8"/>
<circle cx="305.5" cy="705.3" r="2.8"/>
<circle cx="307.5" cy="701.3" r="2.8"/>
<circle cx="309.2" cy="700.0" r="2.8"/>
<circle cx="311.2" cy="701.7" r="2.8"/>
<circle cx="313.3" cy="699.7" r="2.8"/>
<circle cx="315.3" cy="700.3" r="2.8"/>
<circle cx="317.5" cy="699.2" r="2.8"/>
<circle cx="319.5" cy="700.0" r="2.8"/>
<circle cx="321.3" cy="698.7" r="2.8"/>
<circle cx="323.3" cy="699.7" r="2.8"/>
<circle cx="325.3" cy="698.3" r="2.8"/>
<circle cx="327.2" cy="693.3" r="2.8"/>
<circle cx="328.3" cy="688.0" r="2.8"/>
<circle cx="330.3" cy="681.7" r="2.8"/>
<circle cx="332.0" cy="684.2" r="2.8"/>
<circle cx="333.8" cy="679.2" r="2.8"/>
<circle cx="335.8" cy="686.7" r="2.8"/>
<circle cx="337.8" cy="648.7" r="2.8"/>
<circle cx="342.8" cy="644.7" r="2.8"/>
<circle cx="345.0" cy="665.5" r="2.8"/>
<circle cx="346.7" cy="666.3" r="2.8"/>
<circle cx="348.7" cy="667.5" r="2.8"/>
<circle cx="350.3" cy="675.8" r="2.8"/>
<circle cx="352.2" cy="666.7" r="2.8"/>
<circle cx="354.2" cy="670.8" r="2.8"/>
<circle cx="355.8" cy="670.8" r="2.8"/>
<circle cx="357.5" cy="675.8" r="2.8"/>
<circle cx="359.5" cy="679.2" r="2.8"/>
<circle cx="361.2" cy="686.7" r="2.8"/>
<circle cx="363.0" cy="684.2" r="2.8"/>
<circle cx="365.0" cy="683.3" r="2.8"/>
<circle cx="367.0" cy="684.7" r="2.8"/>
<circle cx="368.8" cy="682.0" r="2.8"/>
<circle cx="370.0" cy="680.0" r="2.8"/>
<circle cx="371.7" cy="685.8" r="2.8"/>
<circle cx="373.3" cy="692.5" r="2.8"/>
<circle cx="375.5" cy="694.2" r="2.8"/>
<circle cx="377.5" cy="691.7" r="2.8"/>
<circle cx="379.2" cy="689.2" r="2.8"/>
<circle cx="380.8" cy="687.5" r="2.8"/>
<circle cx="383.0" cy="678.3" r="2.8"/>
<circle cx="385.0" cy="679.2" r="2.8"/>
<circle cx="386.3" cy="684.2" r="2.8"/>
<circle cx="388.0" cy="680.0" r="2.8"/>
<circle cx="390.0" cy="677.0" r="2.8"/>
<circle cx="391.7" cy="690.0" r="2.8"/>
<circle cx="393.7" cy="691.3" r="2.8"/>
<circle cx="395.5" cy="690.8" r="2.8"/>
<circle cx="397.5" cy="691.7" r="2.8"/>
<circle cx="399.5" cy="694.7" r="2.8"/>
<circle cx="401.7" cy="695.0" r="2.8"/>
<circle cx="403.3" cy="693.3" r="2.8"/>
<circle cx="405.3" cy="694.2" r="2.8"/>
<circle cx="407.5" cy="694.7" r="2.8"/>
<circle cx="409.2" cy="694.2" r="2.8"/>
<circle cx="411.2" cy="690.0" r="2.8"/>
<circle cx="412.8" cy="696.7" r="2.8"/>
<circle cx="414.7" cy="694.2" r="2.8"/>
<circle cx="416.7" cy="690.8" r="2.8"/>
<circle cx="418.7" cy="680.8" r="2.8"/>
<circle cx="420.3" cy="691.7" r="2.8"/>
<circle cx="422.0" cy="698.3" r="2.8"/>
<circle cx="423.8" cy="702.5" r="2.8"/>
<circle cx="425.8" cy="700.0" r="2.8"/>
<circle cx="427.8" cy="699.2" r="2.8"/>
<circle cx="429.7" cy="697.5" r="2.8"/>
<circle cx="431.7" cy="693.3" r="2.8"/>
<circle cx="433.3" cy="695.0" r="2.8"/>
<circle cx="435.0" cy="703.0" r="2.8"/>
<circle cx="436.7" cy="699.2" r="2.8"/>
<circle cx="438.7" cy="702.5" r="2.8"/>
<circle cx="440.3" cy="699.7" r="2.8"/>
<circle cx="442.2" cy="704.2" r="2.8"/>
<circle cx="444.2" cy="705.0" r="2.8"/>
<circle cx="445.8" cy="704.2" r="2.8"/>
<circle cx="447.8" cy="705.8" r="2.8"/>
<circle cx="449.7" cy="704.2" r="2.8"/>
<circle cx="451.2" cy="707.5" r="2.8"/>
<circle cx="453.0" cy="709.2" r="2.8"/>
<circle cx="455.0" cy="705.8" r="2.8"/>
<circle cx="456.7" cy="706.7" r="2.8"/>
<circle cx="457.5" cy="700.8" r="2.8"/>
<circle cx="459.7" cy="695.0" r="2.8"/>
<circle cx="461.7" cy="696.7" r="2.8"/>
<circle cx="463.3" cy="695.8" r="2.8"/>
<circle cx="465.3" cy="694.2" r="2.8"/>
<circle cx="467.2" cy="692.5" r="2.8"/>
<circle cx="469.2" cy="695.0" r="2.8"/>
<circle cx="470.8" cy="694.2" r="2.8"/>
<circle cx="472.5" cy="698.3" r="2.8"/>
<circle cx="474.5" cy="690.8" r="2.8"/>
<circle cx="475.8" cy="690.0" r="2.8"/>
<circle cx="476.7" cy="699.2" r="2.8"/>
<circle cx="478.7" cy="702.5" r="2.8"/>
<circle cx="480.3" cy="705.8" r="2.8"/>
<circle cx="482.2" cy="705.0" r="2.8"/>
<circle cx="484.2" cy="703.7" r="2.8"/>
<circle cx="486.2" cy="697.5" r="2.8"/>
<circle cx="488.0" cy="698.3" r="2.8"/>
<circle cx="489.7" cy="700.8" r="2.8"/>
<circle cx="491.7" cy="699.2" r="2.8"/>
<circle cx="493.3" cy="695.0" r="2.8"/>
<circle cx="495.3" cy="691.3" r="2.8"/>
<circle cx="497.5" cy="689.2" r="2.8"/>
<circle cx="499.7" cy="680.0" r="2.8"/>
<circle cx="501.3" cy="681.7" r="2.8"/>
<circle cx="503.3" cy="683.3" r="2.8"/>
<circle cx="505.0" cy="685.8" r="2.8"/>
<circle cx="506.7" cy="676.3" r="2.8"/>
<circle cx="508.0" cy="672.5" r="2.8"/>
<circle cx="509.7" cy="669.2" r="2.8"/>
<circle cx="511.7" cy="667.0" r="2.8"/>
<circle cx="513.7" cy="666.3" r="2.8"/>
<circle cx="515.8" cy="665.8" r="2.8"/>
<circle cx="517.8" cy="666.7" r="2.8"/>
<circle cx="519.7" cy="669.2" r="2.8"/>
<circle cx="521.3" cy="672.5" r="2.8"/>
<circle cx="523.0" cy="675.0" r="2.8"/>
<circle cx="525.0" cy="670.8" r="2.8"/>
<circle cx="526.7" cy="668.3" r="2.8"/>
<circle cx="528.3" cy="667.5" r="2.8"/>
<circle cx="530.0" cy="672.5" r="2.8"/>
<circle cx="532.0" cy="673.3" r="2.8"/>
<circle cx="533.5" cy="670.8" r="2.8"/>
<circle cx="535.0" cy="675.8" r="2.8"/>
<circle cx="537.0" cy="672.5" r="2.8"/>
<circle cx="538.7" cy="673.3" r="2.8"/>
<circle cx="540.8" cy="668.3" r="2.8"/>
<circle cx="542.5" cy="670.8" r="2.8"/>
<circle cx="544.5" cy="671.7" r="2.8"/>
<circle cx="546.2" cy="672.5" r="2.8"/>
<circle cx="548.0" cy="677.5" r="2.8"/>
<circle cx="549.7" cy="672.5" r="2.8"/>
<circle cx="551.7" cy="673.3" r="2.8"/>
<circle cx="553.3" cy="672.5" r="2.8"/>
<circle cx="555.3" cy="675.8" r="2.8"/>
<circle cx="557.0" cy="681.3" r="2.8"/>
<circle cx="558.8" cy="682.5" r="2.8"/>
<circle cx="560.5" cy="684.2" r="2.8"/>
<circle cx="562.5" cy="681.7" r="2.8"/>
<circle cx="564.2" cy="680.0" r="2.8"/>
<circle cx="566.2" cy="682.5" r="2.8"/>
<circle cx="568.0" cy="679.2" r="2.8"/>
<circle cx="569.7" cy="677.5" r="2.8"/>
<circle cx="571.7" cy="680.8" r="2.8"/>
<circle cx="573.3" cy="674.7" r="2.8"/>
<circle cx="575.3" cy="678.3" r="2.8"/>
<circle cx="577.0" cy="676.7" r="2.8"/>
<circle cx="578.7" cy="674.2" r="2.8"/>
<circle cx="580.8" cy="680.0" r="2.8"/>
<circle cx="582.5" cy="679.2" r="2.8"/>
<circle cx="584.5" cy="673.7" r="2.8"/>
<circle cx="585.8" cy="690.0" r="2.8"/>
<circle cx="587.5" cy="685.8" r="2.8"/>
<circle cx="589.5" cy="683.3" r="2.8"/>
<circle cx="591.3" cy="682.5" r="2.8"/>
<circle cx="593.3" cy="683.3" r="2.8"/>
<circle cx="595.3" cy="684.7" r="2.8"/>
<circle cx="78.0" cy="822.5" r="2.8"/>
<circle cx="80.0" cy="825.0" r="2.8"/>
<circle cx="82.0" cy="828.0" r="2.8"/>
<circle cx="83.7" cy="825.0" r="2.8"/>
<circle cx="85.8" cy="826.7" r="2.8"/>
<circle cx="87.5" cy="820.0" r="2.8"/>
<circle cx="89.5" cy="819.2" r="2.8"/>
<circle cx="91.2" cy="815.8" r="2.8"/>
<circle cx="93.0" cy="820.8" r="2.8"/>
<circle cx="94.7" cy="825.8" r="2.8"/>
<circle cx="96.7" cy="819.2" r="2.8"/>
<circle cx="98.7" cy="826.2" r="2.8"/>
<circle cx="100.3" cy="817.5" r="2.8"/>
<circle cx="102.2" cy="812.8" r="2.8"/>
<circle cx="103.8" cy="831.2" r="2.8"/>
<circle cx="105.5" cy="829.7" r="2.8"/>
<circle cx="107.5" cy="819.2" r="2.8"/>
<circle cx="109.2" cy="829.5" r="2.8"/>
<circle cx="110.8" cy="819.2" r="2.8"/>
<circle cx="112.5" cy="823.3" r="2.8"/>
<circle cx="114.5" cy="826.7" r="2.8"/>
<circle cx="116.7" cy="829.7" r="2.8"/>
<circle cx="118.3" cy="820.5" r="2.8"/>
<circle cx="120.0" cy="808.3" r="2.8"/>
<circle cx="122.0" cy="815.8" r="2.8"/>
<circle cx="123.7" cy="811.7" r="2.8"/>
<circle cx="125.5" cy="817.0" r="2.8"/>
<circle cx="127.2" cy="811.7" r="2.8"/>
<circle cx="129.2" cy="821.7" r="2.8"/>
<circle cx="131.2" cy="815.5" r="2.8"/>
<circle cx="132.8" cy="802.8" r="2.8"/>
<circle cx="138.3" cy="799.7" r="2.8"/>
<circle cx="140.0" cy="804.5" r="2.8"/>
<circle cx="141.7" cy="798.3" r="2.8"/>
<circle cx="143.3" cy="802.5" r="2.8"/>
<circle cx="145.0" cy="808.3" r="2.8"/>
<circle cx="147.2" cy="807.0" r="2.8"/>
<circle cx="148.8" cy="792.5" r="2.8"/>
<circle cx="150.5" cy="778.8" r="2.8"/>
<circle cx="152.2" cy="782.2" r="2.8"/>
<circle cx="154.2" cy="787.5" r="2.8"/>
<circle cx="156.2" cy="788.3" r="2.8"/>
<circle cx="157.8" cy="785.0" r="2.8"/>
<circle cx="159.7" cy="787.5" r="2.8"/>
<circle cx="161.3" cy="785.8" r="2.8"/>
<circle cx="163.0" cy="793.8" r="2.8"/>
<circle cx="165.0" cy="792.0" r="2.8"/>
<circle cx="168.7" cy="775.0" r="2.8"/>
<circle cx="170.3" cy="779.7" r="2.8"/>
<circle cx="172.2" cy="772.6" r="2.8"/>
<circle cx="174.2" cy="762.5" r="2.8"/>
<circle cx="175.5" cy="756.7" r="2.8"/>
<circle cx="177.5" cy="752.8" r="2.8"/>
<circle cx="179.2" cy="754.7" r="2.8"/>
<circle cx="181.2" cy="767.0" r="2.8"/>
<circle cx="183.0" cy="770.8" r="2.8"/>
<circle cx="184.7" cy="779.2" r="2.8"/>
<circle cx="186.7" cy="778.8" r="2.8"/>
<circle cx="188.7" cy="779.2" r="2.8"/>
<circle cx="191.3" cy="783.7" r="2.8"/>
<circle cx="193.3" cy="783.7" r="2.8"/>
<circle cx="195.3" cy="783.0" r="2.8"/>
<circle cx="197.2" cy="780.0" r="2.8"/>
<circle cx="199.2" cy="779.2" r="2.8"/>
<circle cx="200.8" cy="778.3" r="2.8"/>
<circle cx="202.5" cy="777.5" r="2.8"/>
<circle cx="204.5" cy="778.7" r="2.8"/>
<circle cx="206.3" cy="779.7" r="2.8"/>
<circle cx="208.3" cy="774.5" r="2.8"/>
<circle cx="210.0" cy="780.0" r="2.8"/>
<circle cx="212.0" cy="780.8" r="2.8"/>
<circle cx="213.7" cy="767.0" r="2.8"/>
<circle cx="215.5" cy="761.3" r="2.8"/>
<circle cx="217.2" cy="778.3" r="2.8"/>
<circle cx="219.2" cy="771.7" r="2.8"/>
<circle cx="221.2" cy="776.3" r="2.8"/>
<circle cx="222.8" cy="773.3" r="2.8"/>
<circle cx="224.5" cy="770.3" r="2.8"/>
<circle cx="226.3" cy="775.5" r="2.8"/>
<circle cx="228.0" cy="759.2" r="2.8"/>
<circle cx="229.7" cy="756.7" r="2.8"/>
<circle cx="231.3" cy="762.5" r="2.8"/>
<circle cx="233.3" cy="760.8" r="2.8"/>
<circle cx="235.0" cy="763.0" r="2.8"/>
<circle cx="237.0" cy="746.3" r="2.8"/>
<circle cx="238.7" cy="749.2" r="2.8"/>
<circle cx="240.5" cy="761.7" r="2.8"/>
<circle cx="242.5" cy="743.7" r="2.8"/>
<circle cx="244.2" cy="740.8" r="2.8"/>
<circle cx="245.8" cy="750.0" r="2.8"/>
<circle cx="247.8" cy="750.8" r="2.8"/>
<circle cx="249.5" cy="752.5" r="2.8"/>
<circle cx="251.2" cy="758.3" r="2.8"/>
<circle cx="253.0" cy="758.8" r="2.8"/>
<circle cx="255.0" cy="758.3" r="2.8"/>
<circle cx="257.0" cy="758.8" r="2.8"/>
<circle cx="259.2" cy="758.3" r="2.8"/>
<circle cx="261.2" cy="760.2" r="2.8"/>
<circle cx="263.0" cy="762.2" r="2.8"/>
<circle cx="264.8" cy="763.2" r="2.8"/>
<circle cx="267.5" cy="756.2" r="2.8"/>
<circle cx="269.2" cy="754.7" r="2.8"/>
<circle cx="271.2" cy="753.3" r="2.8"/>
<circle cx="272.8" cy="752.5" r="2.8"/>
<circle cx="274.5" cy="765.8" r="2.8"/>
<circle cx="276.3" cy="760.0" r="2.8"/>
<circle cx="278.0" cy="757.5" r="2.8"/>
<circle cx="279.7" cy="755.8" r="2.8"/>
<circle cx="279.2" cy="768.7" r="2.8"/>
<circle cx="282.0" cy="772.2" r="2.8"/>
<circle cx="283.7" cy="764.2" r="2.8"/>
<circle cx="285.5" cy="765.8" r="2.8"/>
<circle cx="287.2" cy="769.2" r="2.8"/>
<circle cx="289.2" cy="769.7" r="2.8"/>
<circle cx="290.8" cy="768.7" r="2.8"/>
<circle cx="292.8" cy="777.2" r="2.8"/>
<circle cx="294.5" cy="787.0" r="2.8"/>
<circle cx="296.3" cy="789.2" r="2.8"/>
<circle cx="298.0" cy="792.5" r="2.8"/>
<circle cx="299.7" cy="798.3" r="2.8"/>
<circle cx="301.7" cy="799.7" r="2.8"/>
<circle cx="303.3" cy="795.8" r="2.8"/>
<circle cx="305.0" cy="792.5" r="2.8"/>
<circle cx="307.0" cy="788.0" r="2.8"/>
<circle cx="308.7" cy="787.5" r="2.8"/>
<circle cx="310.5" cy="789.2" r="2.8"/>
<circle cx="312.5" cy="788.0" r="2.8"/>
<circle cx="314.5" cy="778.0" r="2.8"/>
<circle cx="316.3" cy="779.2" r="2.8"/>
<circle cx="318.0" cy="783.3" r="2.8"/>
<circle cx="320.0" cy="776.7" r="2.8"/>
<circle cx="321.7" cy="774.2" r="2.8"/>
<circle cx="323.3" cy="786.7" r="2.8"/>
<circle cx="325.0" cy="782.5" r="2.8"/>
<circle cx="326.7" cy="780.8" r="2.8"/>
<circle cx="328.7" cy="781.7" r="2.8"/>
<circle cx="330.5" cy="780.0" r="2.8"/>
<circle cx="332.2" cy="779.7" r="2.8"/>
<circle cx="334.2" cy="765.8" r="2.8"/>
<circle cx="335.8" cy="781.7" r="2.8"/>
<circle cx="337.8" cy="771.7" r="2.8"/>
<circle cx="343.0" cy="770.8" r="2.8"/>
<circle cx="344.7" cy="761.3" r="2.8"/>
<circle cx="346.3" cy="763.7" r="2.8"/>
<circle cx="348.3" cy="765.8" r="2.8"/>
<circle cx="350.3" cy="767.5" r="2.8"/>
<circle cx="352.2" cy="770.0" r="2.8"/>
<circle cx="354.2" cy="766.3" r="2.8"/>
<circle cx="355.8" cy="765.3" r="2.8"/>
<circle cx="357.8" cy="764.5" r="2.8"/>
<circle cx="359.5" cy="763.7" r="2.8"/>
<circle cx="361.2" cy="773.3" r="2.8"/>
<circle cx="363.0" cy="779.2" r="2.8"/>
<circle cx="364.7" cy="780.3" r="2.8"/>
<circle cx="366.3" cy="783.7" r="2.8"/>
<circle cx="368.3" cy="778.0" r="2.8"/>
<circle cx="370.0" cy="775.8" r="2.8"/>
<circle cx="371.7" cy="779.2" r="2.8"/>
<circle cx="373.7" cy="772.5" r="2.8"/>
<circle cx="375.5" cy="770.0" r="2.8"/>
<circle cx="377.2" cy="769.2" r="2.8"/>
<circle cx="379.2" cy="768.3" r="2.8"/>
<circle cx="380.8" cy="769.2" r="2.8"/>
<circle cx="382.8" cy="770.0" r="2.8"/>
<circle cx="384.5" cy="773.3" r="2.8"/>
<circle cx="386.3" cy="774.7" r="2.8"/>
<circle cx="388.0" cy="770.8" r="2.8"/>
<circle cx="389.7" cy="780.0" r="2.8"/>
<circle cx="391.7" cy="777.5" r="2.8"/>
<circle cx="393.3" cy="770.0" r="2.8"/>
<circle cx="395.0" cy="768.0" r="2.8"/>
<circle cx="397.0" cy="770.3" r="2.8"/>
<circle cx="398.7" cy="779.2" r="2.8"/>
<circle cx="400.8" cy="787.5" r="2.8"/>
<circle cx="402.8" cy="780.0" r="2.8"/>
<circle cx="404.5" cy="780.8" r="2.8"/>
<circle cx="406.2" cy="777.0" r="2.8"/>
<circle cx="408.0" cy="782.5" r="2.8"/>
<circle cx="409.7" cy="781.7" r="2.8"/>
<circle cx="411.3" cy="788.3" r="2.8"/>
<circle cx="413.3" cy="785.8" r="2.8"/>
<circle cx="415.0" cy="784.2" r="2.8"/>
<circle cx="417.0" cy="789.2" r="2.8"/>
<circle cx="418.7" cy="782.5" r="2.8"/>
<circle cx="420.5" cy="786.7" r="2.8"/>
<circle cx="422.2" cy="790.8" r="2.8"/>
<circle cx="423.8" cy="797.0" r="2.8"/>
<circle cx="425.8" cy="791.7" r="2.8"/>
<circle cx="427.8" cy="779.2" r="2.8"/>
<circle cx="429.5" cy="789.2" r="2.8"/>
<circle cx="431.3" cy="781.7" r="2.8"/>
<circle cx="433.0" cy="784.2" r="2.8"/>
<circle cx="435.0" cy="783.3" r="2.8"/>
<circle cx="437.0" cy="785.8" r="2.8"/>
<circle cx="438.7" cy="788.3" r="2.8"/>
<circle cx="440.8" cy="790.8" r="2.8"/>
<circle cx="442.3" cy="796.2" r="2.8"/>
<circle cx="444.2" cy="795.5" r="2.8"/>
<circle cx="445.8" cy="787.5" r="2.8"/>
<circle cx="447.8" cy="784.0" r="2.8"/>
<circle cx="449.2" cy="789.2" r="2.8"/>
<circle cx="451.2" cy="791.7" r="2.8"/>
<circle cx="452.5" cy="786.0" r="2.8"/>
<circle cx="454.7" cy="788.7" r="2.8"/>
<circle cx="456.7" cy="778.3" r="2.8"/>
<circle cx="458.3" cy="780.8" r="2.8"/>
<circle cx="460.0" cy="772.8" r="2.8"/>
<circle cx="462.0" cy="775.0" r="2.8"/>
<circle cx="465.0" cy="764.7" r="2.8"/>
<circle cx="467.0" cy="758.0" r="2.8"/>
<circle cx="469.2" cy="758.3" r="2.8"/>
<circle cx="470.8" cy="766.7" r="2.8"/>
<circle cx="472.5" cy="776.7" r="2.8"/>
<circle cx="474.2" cy="779.2" r="2.8"/>
<circle cx="475.8" cy="780.0" r="2.8"/>
<circle cx="477.5" cy="778.3" r="2.8"/>
<circle cx="479.2" cy="779.2" r="2.8"/>
<circle cx="480.8" cy="783.3" r="2.8"/>
<circle cx="483.0" cy="787.5" r="2.8"/>
<circle cx="484.7" cy="785.0" r="2.8"/>
<circle cx="486.7" cy="783.3" r="2.8"/>
<circle cx="488.7" cy="782.5" r="2.8"/>
<circle cx="490.5" cy="781.7" r="2.8"/>
<circle cx="492.5" cy="782.5" r="2.8"/>
<circle cx="494.5" cy="783.0" r="2.8"/>
<circle cx="496.3" cy="783.3" r="2.8"/>
<circle cx="498.0" cy="778.3" r="2.8"/>
<circle cx="499.7" cy="782.5" r="2.8"/>
<circle cx="501.7" cy="783.3" r="2.8"/>
<circle cx="503.3" cy="785.3" r="2.8"/>
<circle cx="505.0" cy="799.7" r="2.8"/>
<circle cx="506.7" cy="807.2" r="2.8"/>
<circle cx="508.3" cy="819.2" r="2.8"/>
<circle cx="510.5" cy="818.4" r="2.8"/>
<circle cx="512.7" cy="817.8" r="2.8"/>
<circle cx="514.9" cy="817.4" r="2.8"/>
<circle cx="517.1" cy="817.1" r="2.8"/>
<circle cx="519.3" cy="817.8" r="2.8"/>
<circle cx="521.5" cy="817.8" r="2.8"/>
<circle cx="523.7" cy="816.2" r="2.8"/>
<circle cx="525.9" cy="816.1" r="2.8"/>
<circle cx="528.1" cy="812.4" r="2.8"/>
<circle cx="530.3" cy="809.1" r="2.8"/>
<circle cx="532.5" cy="809.0" r="2.8"/>
<circle cx="534.7" cy="810.5" r="2.8"/>
<circle cx="536.9" cy="811.4" r="2.8"/>
<circle cx="539.1" cy="811.7" r="2.8"/>
<circle cx="541.3" cy="811.7" r="2.8"/>
<circle cx="543.5" cy="811.5" r="2.8"/>
<circle cx="545.7" cy="811.3" r="2.8"/>
<circle cx="547.9" cy="811.0" r="2.8"/>
<circle cx="550.1" cy="809.3" r="2.8"/>
<circle cx="552.3" cy="807.7" r="2.8"/>
<circle cx="554.5" cy="811.2" r="2.8"/>
<circle cx="556.7" cy="813.8" r="2.8"/>
<circle cx="558.9" cy="812.8" r="2.8"/>
<circle cx="561.1" cy="812.3" r="2.8"/>
<circle cx="563.3" cy="813.0" r="2.8"/>
<circle cx="565.5" cy="812.3" r="2.8"/>
<circle cx="567.7" cy="814.1" r="2.8"/>
<circle cx="569.9" cy="815.4" r="2.8"/>
<circle cx="572.1" cy="815.5" r="2.8"/>
<circle cx="574.3" cy="814.1" r="2.8"/>
<circle cx="576.5" cy="812.4" r="2.8"/>
<circle cx="578.7" cy="812.7" r="2.8"/>
<circle cx="580.9" cy="813.9" r="2.8"/>
<circle cx="583.1" cy="815.6" r="2.8"/>
<circle cx="585.3" cy="818.0" r="2.8"/>
<circle cx="587.5" cy="819.5" r="2.8"/>
<circle cx="589.7" cy="814.5" r="2.8"/>
<circle cx="591.9" cy="817.7" r="2.8"/>
<circle cx="594.1" cy="820.2" r="2.8"/>
<circle cx="595.3" cy="821.7" r="2.8"/>
<circle cx="279.1" cy="2.70" r="2.3"/>
<circle cx="279.1" cy="10.68" r="2.3"/>
<circle cx="279.1" cy="18.66" r="2.3"/>
<circle cx="279.1" cy="26.63" r="2.3"/>
<circle cx="279.1" cy="34.61" r="2.3"/>
<circle cx="279.1" cy="42.59" r="2.3"/>
<circle cx="279.1" cy="50.57" r="2.3"/>
<circle cx="279.1" cy="58.55" r="2.3"/>
<circle cx="279.1" cy="66.52" r="2.3"/>
<circle cx="279.1" cy="74.50" r="2.3"/>
<circle cx="279.1" cy="82.48" r="2.3"/>
<circle cx="279.1" cy="90.46" r="2.3"/>
<circle cx="279.1" cy="98.44" r="2.3"/>
<circle cx="279.1" cy="106.41" r="2.3"/>
<circle cx="279.1" cy="114.39" r="2.3"/>
<circle cx="279.1" cy="122.37" r="2.3"/>
<circle cx="279.1" cy="130.35" r="2.3"/>
<circle cx="279.1" cy="138.33" r="2.3"/>
<circle cx="279.1" cy="146.30" r="2.3"/>
<circle cx="279.1" cy="154.28" r="2.3"/>
<circle cx="279.1" cy="162.26" r="2.3"/>
<circle cx="279.1" cy="170.24" r="2.3"/>
<circle cx="279.1" cy="178.22" r="2.3"/>
<circle cx="279.1" cy="186.19" r="2.3"/>
<circle cx="279.1" cy="194.17" r="2.3"/>
<circle cx="279.1" cy="202.15" r="2.3"/>
<circle cx="279.1" cy="210.13" r="2.3"/>
<circle cx="279.1" cy="218.11" r="2.3"/>
<circle cx="279.1" cy="226.08" r="2.3"/>
<circle cx="279.1" cy="234.06" r="2.3"/>
<circle cx="279.1" cy="242.04" r="2.3"/>
<circle cx="279.1" cy="250.02" r="2.3"/>
<circle cx="279.1" cy="258.00" r="2.3"/>
<circle cx="279.1" cy="265.97" r="2.3"/>
<circle cx="279.1" cy="273.95" r="2.3"/>
<circle cx="279.1" cy="281.93" r="2.3"/>
<circle cx="279.1" cy="289.91" r="2.3"/>
<circle cx="279.1" cy="297.89" r="2.3"/>
<circle cx="279.1" cy="305.86" r="2.3"/>
<circle cx="279.1" cy="313.84" r="2.3"/>
<circle cx="279.1" cy="321.82" r="2.3"/>
<circle cx="279.1" cy="329.80" r="2.3"/>
<circle cx="279.1" cy="337.78" r="2.3"/>
<circle cx="279.1" cy="345.75" r="2.3"/>
<circle cx="279.1" cy="353.73" r="2.3"/>
<circle cx="279.1" cy="361.71" r="2.3"/>
<circle cx="279.1" cy="369.69" r="2.3"/>
<circle cx="279.1" cy="377.67" r="2.3"/>
<circle cx="279.1" cy="385.64" r="2.3"/>
<circle cx="279.1" cy="393.62" r="2.3"/>
<circle cx="279.1" cy="401.60" r="2.3"/>
<circle cx="279.1" cy="409.58" r="2.3"/>
<circle cx="279.1" cy="417.56" r="2.3"/>
<circle cx="279.1" cy="425.53" r="2.3"/>
<circle cx="279.1" cy="433.51" r="2.3"/>
<circle cx="279.1" cy="441.49" r="2.3"/>
<circle cx="279.1" cy="449.47" r="2.3"/>
<circle cx="279.1" cy="457.45" r="2.3"/>
<circle cx="279.1" cy="465.42" r="2.3"/>
<circle cx="279.1" cy="473.40" r="2.3"/>
<circle cx="279.1" cy="481.38" r="2.3"/>
<circle cx="279.1" cy="489.36" r="2.3"/>
<circle cx="279.1" cy="497.34" r="2.3"/>
<circle cx="279.1" cy="505.31" r="2.3"/>
<circle cx="279.1" cy="513.29" r="2.3"/>
<circle cx="279.1" cy="521.27" r="2.3"/>
<circle cx="279.1" cy="529.25" r="2.3"/>
<circle cx="279.1" cy="537.23" r="2.3"/>
<circle cx="279.1" cy="545.20" r="2.3"/>
<circle cx="279.1" cy="553.18" r="2.3"/>
<circle cx="279.1" cy="561.16" r="2.3"/>
<circle cx="279.1" cy="569.14" r="2.3"/>
<circle cx="279.1" cy="577.12" r="2.3"/>
<circle cx="279.1" cy="585.09" r="2.3"/>
<circle cx="279.1" cy="593.07" r="2.3"/>
<circle cx="279.1" cy="601.05" r="2.3"/>
<circle cx="279.1" cy="609.03" r="2.3"/>
<circle cx="279.1" cy="617.01" r="2.3"/>
<circle cx="279.1" cy="624.98" r="2.3"/>
<circle cx="279.1" cy="632.96" r="2.3"/>
<circle cx="279.1" cy="640.94" r="2.3"/>
<circle cx="279.1" cy="648.92" r="2.3"/>
<circle cx="279.1" cy="656.90" r="2.3"/>
<circle cx="279.1" cy="664.87" r="2.3"/>
<circle cx="279.1" cy="672.85" r="2.3"/>
<circle cx="279.1" cy="680.83" r="2.3"/>
<circle cx="279.1" cy="688.81" r="2.3"/>
<circle cx="279.1" cy="696.79" r="2.3"/>
<circle cx="279.1" cy="704.76" r="2.3"/>
<circle cx="279.1" cy="712.74" r="2.3"/>
<circle cx="279.1" cy="720.72" r="2.3"/>
<circle cx="279.1" cy="728.70" r="2.3"/>
<circle cx="279.1" cy="736.68" r="2.3"/>
<circle cx="279.1" cy="744.65" r="2.3"/>
<circle cx="279.1" cy="752.63" r="2.3"/>
<circle cx="279.1" cy="760.61" r="2.3"/>
<circle cx="279.1" cy="768.59" r="2.3"/>
<circle cx="279.1" cy="776.57" r="2.3"/>
<circle cx="279.1" cy="784.54" r="2.3"/>
<circle cx="279.1" cy="792.52" r="2.3"/>
<circle cx="279.1" cy="800.50" r="2.3"/>
<circle cx="279.1" cy="808.48" r="2.3"/>
<circle cx="279.1" cy="816.46" r="2.3"/>
<circle cx="279.1" cy="824.43" r="2.3"/>
<circle cx="279.1" cy="832.41" r="2.3"/>
<circle cx="279.1" cy="840.39" r="2.3"/>
<circle cx="279.1" cy="848.37" r="2.3"/>
<circle cx="279.1" cy="856.35" r="2.3"/>
<circle cx="475.2" cy="4.00" r="2.3"/>
<circle cx="475.2" cy="11.98" r="2.3"/>
<circle cx="475.2" cy="19.96" r="2.3"/>
<circle cx="475.2" cy="27.93" r="2.3"/>
<circle cx="475.2" cy="35.91" r="2.3"/>
<circle cx="475.2" cy="43.89" r="2.3"/>
<circle cx="475.2" cy="51.87" r="2.3"/>
<circle cx="475.2" cy="59.85" r="2.3"/>
<circle cx="475.2" cy="67.82" r="2.3"/>
<circle cx="475.2" cy="75.80" r="2.3"/>
<circle cx="475.2" cy="83.78" r="2.3"/>
<circle cx="475.2" cy="91.76" r="2.3"/>
<circle cx="475.2" cy="99.74" r="2.3"/>
<circle cx="475.2" cy="107.71" r="2.3"/>
<circle cx="475.2" cy="115.69" r="2.3"/>
<circle cx="475.2" cy="123.67" r="2.3"/>
<circle cx="475.2" cy="131.65" r="2.3"/>
<circle cx="475.2" cy="139.63" r="2.3"/>
<circle cx="475.2" cy="147.60" r="2.3"/>
<circle cx="475.2" cy="155.58" r="2.3"/>
<circle cx="475.2" cy="163.56" r="2.3"/>
<circle cx="475.2" cy="171.54" r="2.3"/>
<circle cx="475.2" cy="179.52" r="2.3"/>
<circle cx="475.2" cy="187.49" r="2.3"/>
<circle cx="475.2" cy="195.47" r="2.3"/>
<circle cx="475.2" cy="203.45" r="2.3"/>
<circle cx="475.2" cy="211.43" r="2.3"/>
<circle cx="475.2" cy="219.41" r="2.3"/>
<circle cx="475.2" cy="227.38" r="2.3"/>
<circle cx="475.2" cy="235.36" r="2.3"/>
<circle cx="475.2" cy="243.34" r="2.3"/>
<circle cx="475.2" cy="251.32" r="2.3"/>
<circle cx="475.2" cy="259.30" r="2.3"/>
<circle cx="475.2" cy="267.27" r="2.3"/>
<circle cx="475.2" cy="275.25" r="2.3"/>
<circle cx="475.2" cy="283.23" r="2.3"/>
<circle cx="475.2" cy="291.21" r="2.3"/>
<circle cx="475.2" cy="299.19" r="2.3"/>
<circle cx="475.2" cy="307.16" r="2.3"/>
<circle cx="475.2" cy="315.14" r="2.3"/>
<circle cx="475.2" cy="323.12" r="2.3"/>
<circle cx="475.2" cy="331.10" r="2.3"/>
<circle cx="475.2" cy="339.08" r="2.3"/>
<circle cx="475.2" cy="347.05" r="2.3"/>
<circle cx="475.2" cy="355.03" r="2.3"/>
<circle cx="475.2" cy="363.01" r="2.3"/>
<circle cx="475.2" cy="370.99" r="2.3"/>
<circle cx="475.2" cy="378.97" r="2.3"/>
<circle cx="475.2" cy="386.94" r="2.3"/>
<circle cx="475.2" cy="394.92" r="2.3"/>
<circle cx="475.2" cy="402.90" r="2.3"/>
<circle cx="475.2" cy="410.88" r="2.3"/>
<circle cx="475.2" cy="418.86" r="2.3"/>
<circle cx="475.2" cy="426.83" r="2.3"/>
<circle cx="475.2" cy="434.81" r="2.3"/>
<circle cx="475.2" cy="442.79" r="2.3"/>
<circle cx="475.2" cy="450.77" r="2.3"/>
<circle cx="475.2" cy="458.75" r="2.3"/>
<circle cx="475.2" cy="466.72" r="2.3"/>
<circle cx="475.2" cy="474.70" r="2.3"/>
<circle cx="475.2" cy="482.68" r="2.3"/>
<circle cx="475.2" cy="490.66" r="2.3"/>
<circle cx="475.2" cy="498.64" r="2.3"/>
<circle cx="475.2" cy="506.61" r="2.3"/>
<circle cx="475.2" cy="514.59" r="2.3"/>
<circle cx="475.2" cy="522.57" r="2.3"/>
<circle cx="475.2" cy="530.55" r="2.3"/>
<circle cx="475.2" cy="538.53" r="2.3"/>
<circle cx="475.2" cy="546.50" r="2.3"/>
<circle cx="475.2" cy="554.48" r="2.3"/>
<circle cx="475.2" cy="562.46" r="2.3"/>
<circle cx="475.2" cy="570.44" r="2.3"/>
<circle cx="475.2" cy="578.42" r="2.3"/>
<circle cx="475.2" cy="586.39" r="2.3"/>
<circle cx="475.2" cy="594.37" r="2.3"/>
<circle cx="475.2" cy="602.35" r="2.3"/>
<circle cx="475.2" cy="610.33" r="2.3"/>
<circle cx="475.2" cy="618.31" r="2.3"/>
<circle cx="475.2" cy="626.28" r="2.3"/>
<circle cx="475.2" cy="634.26" r="2.3"/>
<circle cx="475.2" cy="642.24" r="2.3"/>
<circle cx="475.2" cy="650.22" r="2.3"/>
<circle cx="475.2" cy="658.20" r="2.3"/>
<circle cx="475.2" cy="666.17" r="2.3"/>
<circle cx="475.2" cy="674.15" r="2.3"/>
<circle cx="475.2" cy="682.13" r="2.3"/>
<circle cx="475.2" cy="690.11" r="2.3"/>
<circle cx="475.2" cy="698.09" r="2.3"/>
<circle cx="475.2" cy="706.06" r="2.3"/>
<circle cx="475.2" cy="714.04" r="2.3"/>
<circle cx="475.2" cy="722.02" r="2.3"/>
<circle cx="475.2" cy="730.00" r="2.3"/>
<circle cx="475.2" cy="737.98" r="2.3"/>
<circle cx="475.2" cy="745.95" r="2.3"/>
<circle cx="475.2" cy="753.93" r="2.3"/>
<circle cx="475.2" cy="761.91" r="2.3"/>
<circle cx="475.2" cy="769.89" r="2.3"/>
<circle cx="475.2" cy="777.87" r="2.3"/>
<circle cx="475.2" cy="785.84" r="2.3"/>
<circle cx="475.2" cy="793.82" r="2.3"/>
<circle cx="475.2" cy="801.80" r="2.3"/>
<circle cx="475.2" cy="809.78" r="2.3"/>
<circle cx="475.2" cy="817.76" r="2.3"/>
<circle cx="475.2" cy="825.73" r="2.3"/>
<circle cx="475.2" cy="833.71" r="2.3"/>
<circle cx="475.2" cy="841.69" r="2.3"/>
<circle cx="475.2" cy="849.67" r="2.3"/>
<circle cx="475.2" cy="857.65" r="2.3"/>
</g>
</svg>
</body></html>
